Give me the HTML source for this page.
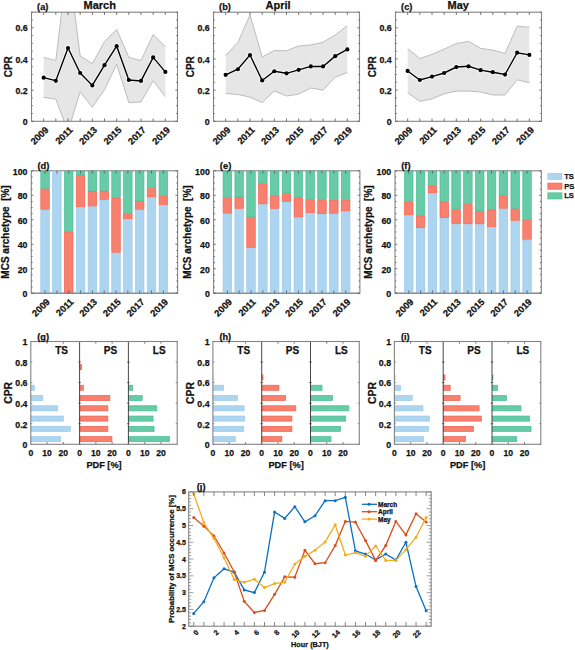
<!DOCTYPE html>
<html><head><meta charset="utf-8"><title>figure</title>
<style>html,body{margin:0;padding:0;background:#fff;width:575px;height:650px;overflow:hidden}svg{display:block}</style>
</head><body>
<svg width="575" height="650" viewBox="0 0 575 650" font-family='"Liberation Sans", sans-serif'>
<rect x="0" y="0" width="575" height="650" fill="#fff"/>
<clipPath id="c1_0"><rect x="31.5" y="12.2" width="146" height="109.1"/></clipPath>
<g clip-path="url(#c1_0)">
<polygon points="43.67,57.4 55.83,60.52 68,-40.79 80.17,55.84 92.33,63.63 104.5,41.81 116.67,29.34 128.83,57.4 141,60.52 153.17,34.49 165.33,46.64 165.33,96.67 153.17,80.78 141,101.97 128.83,102.6 116.67,64.26 104.5,89.66 92.33,107.27 80.17,91.69 68,131.43 55.83,99.17 43.67,97.45" fill="#e6e6e6" stroke="none"/>
<polyline points="43.67,57.4 55.83,60.52 68,-40.79 80.17,55.84 92.33,63.63 104.5,41.81 116.67,29.34 128.83,57.4 141,60.52 153.17,34.49 165.33,46.64" fill="none" stroke="#bcbcbc" stroke-width="1.0"/>
<polyline points="43.67,97.45 55.83,99.17 68,131.43 80.17,91.69 92.33,107.27 104.5,89.66 116.67,64.26 128.83,102.6 141,101.97 153.17,80.78 165.33,96.67" fill="none" stroke="#bcbcbc" stroke-width="1.0"/>
</g>
<polyline points="43.67,77.66 55.83,80.78 68,48.05 80.17,72.98 92.33,85.45 104.5,65.19 116.67,46.18 128.83,80 141,80.93 153.17,57.4 165.33,71.89" fill="none" stroke="#fff" stroke-opacity="0.75" stroke-width="3.0"/>
<circle cx="43.67" cy="77.66" r="3.0" fill="#fff" fill-opacity="0.75"/>
<circle cx="55.83" cy="80.78" r="3.0" fill="#fff" fill-opacity="0.75"/>
<circle cx="68" cy="48.05" r="3.0" fill="#fff" fill-opacity="0.75"/>
<circle cx="80.17" cy="72.98" r="3.0" fill="#fff" fill-opacity="0.75"/>
<circle cx="92.33" cy="85.45" r="3.0" fill="#fff" fill-opacity="0.75"/>
<circle cx="104.5" cy="65.19" r="3.0" fill="#fff" fill-opacity="0.75"/>
<circle cx="116.67" cy="46.18" r="3.0" fill="#fff" fill-opacity="0.75"/>
<circle cx="128.83" cy="80" r="3.0" fill="#fff" fill-opacity="0.75"/>
<circle cx="141" cy="80.93" r="3.0" fill="#fff" fill-opacity="0.75"/>
<circle cx="153.17" cy="57.4" r="3.0" fill="#fff" fill-opacity="0.75"/>
<circle cx="165.33" cy="71.89" r="3.0" fill="#fff" fill-opacity="0.75"/>
<polyline points="43.67,77.66 55.83,80.78 68,48.05 80.17,72.98 92.33,85.45 104.5,65.19 116.67,46.18 128.83,80 141,80.93 153.17,57.4 165.33,71.89" fill="none" stroke="#000" stroke-width="1.4"/>
<circle cx="43.67" cy="77.66" r="2.1" fill="#000"/>
<circle cx="55.83" cy="80.78" r="2.1" fill="#000"/>
<circle cx="68" cy="48.05" r="2.1" fill="#000"/>
<circle cx="80.17" cy="72.98" r="2.1" fill="#000"/>
<circle cx="92.33" cy="85.45" r="2.1" fill="#000"/>
<circle cx="104.5" cy="65.19" r="2.1" fill="#000"/>
<circle cx="116.67" cy="46.18" r="2.1" fill="#000"/>
<circle cx="128.83" cy="80" r="2.1" fill="#000"/>
<circle cx="141" cy="80.93" r="2.1" fill="#000"/>
<circle cx="153.17" cy="57.4" r="2.1" fill="#000"/>
<circle cx="165.33" cy="71.89" r="2.1" fill="#000"/>
<rect x="31.5" y="12.2" width="146" height="109.1" fill="none" stroke="#848484" stroke-width="1.1"/>
<line x1="43.67" y1="121.3" x2="43.67" y2="118.5" stroke="#555" stroke-width="0.8"/>
<line x1="43.67" y1="12.2" x2="43.67" y2="15" stroke="#555" stroke-width="0.8"/>
<line x1="55.83" y1="121.3" x2="55.83" y2="118.5" stroke="#555" stroke-width="0.8"/>
<line x1="55.83" y1="12.2" x2="55.83" y2="15" stroke="#555" stroke-width="0.8"/>
<line x1="68" y1="121.3" x2="68" y2="118.5" stroke="#555" stroke-width="0.8"/>
<line x1="68" y1="12.2" x2="68" y2="15" stroke="#555" stroke-width="0.8"/>
<line x1="80.17" y1="121.3" x2="80.17" y2="118.5" stroke="#555" stroke-width="0.8"/>
<line x1="80.17" y1="12.2" x2="80.17" y2="15" stroke="#555" stroke-width="0.8"/>
<line x1="92.33" y1="121.3" x2="92.33" y2="118.5" stroke="#555" stroke-width="0.8"/>
<line x1="92.33" y1="12.2" x2="92.33" y2="15" stroke="#555" stroke-width="0.8"/>
<line x1="104.5" y1="121.3" x2="104.5" y2="118.5" stroke="#555" stroke-width="0.8"/>
<line x1="104.5" y1="12.2" x2="104.5" y2="15" stroke="#555" stroke-width="0.8"/>
<line x1="116.67" y1="121.3" x2="116.67" y2="118.5" stroke="#555" stroke-width="0.8"/>
<line x1="116.67" y1="12.2" x2="116.67" y2="15" stroke="#555" stroke-width="0.8"/>
<line x1="128.83" y1="121.3" x2="128.83" y2="118.5" stroke="#555" stroke-width="0.8"/>
<line x1="128.83" y1="12.2" x2="128.83" y2="15" stroke="#555" stroke-width="0.8"/>
<line x1="141" y1="121.3" x2="141" y2="118.5" stroke="#555" stroke-width="0.8"/>
<line x1="141" y1="12.2" x2="141" y2="15" stroke="#555" stroke-width="0.8"/>
<line x1="153.17" y1="121.3" x2="153.17" y2="118.5" stroke="#555" stroke-width="0.8"/>
<line x1="153.17" y1="12.2" x2="153.17" y2="15" stroke="#555" stroke-width="0.8"/>
<line x1="165.33" y1="121.3" x2="165.33" y2="118.5" stroke="#555" stroke-width="0.8"/>
<line x1="165.33" y1="12.2" x2="165.33" y2="15" stroke="#555" stroke-width="0.8"/>
<line x1="31.5" y1="121.3" x2="33.7" y2="121.3" stroke="#555" stroke-width="0.8"/>
<line x1="177.5" y1="121.3" x2="175.3" y2="121.3" stroke="#555" stroke-width="0.8"/>
<line x1="31.5" y1="113.51" x2="32.8" y2="113.51" stroke="#555" stroke-width="0.8"/>
<line x1="177.5" y1="113.51" x2="176.2" y2="113.51" stroke="#555" stroke-width="0.8"/>
<line x1="31.5" y1="105.71" x2="32.8" y2="105.71" stroke="#555" stroke-width="0.8"/>
<line x1="177.5" y1="105.71" x2="176.2" y2="105.71" stroke="#555" stroke-width="0.8"/>
<line x1="31.5" y1="97.92" x2="32.8" y2="97.92" stroke="#555" stroke-width="0.8"/>
<line x1="177.5" y1="97.92" x2="176.2" y2="97.92" stroke="#555" stroke-width="0.8"/>
<line x1="31.5" y1="90.13" x2="33.7" y2="90.13" stroke="#555" stroke-width="0.8"/>
<line x1="177.5" y1="90.13" x2="175.3" y2="90.13" stroke="#555" stroke-width="0.8"/>
<line x1="31.5" y1="82.34" x2="32.8" y2="82.34" stroke="#555" stroke-width="0.8"/>
<line x1="177.5" y1="82.34" x2="176.2" y2="82.34" stroke="#555" stroke-width="0.8"/>
<line x1="31.5" y1="74.54" x2="32.8" y2="74.54" stroke="#555" stroke-width="0.8"/>
<line x1="177.5" y1="74.54" x2="176.2" y2="74.54" stroke="#555" stroke-width="0.8"/>
<line x1="31.5" y1="66.75" x2="32.8" y2="66.75" stroke="#555" stroke-width="0.8"/>
<line x1="177.5" y1="66.75" x2="176.2" y2="66.75" stroke="#555" stroke-width="0.8"/>
<line x1="31.5" y1="58.96" x2="33.7" y2="58.96" stroke="#555" stroke-width="0.8"/>
<line x1="177.5" y1="58.96" x2="175.3" y2="58.96" stroke="#555" stroke-width="0.8"/>
<line x1="31.5" y1="51.16" x2="32.8" y2="51.16" stroke="#555" stroke-width="0.8"/>
<line x1="177.5" y1="51.16" x2="176.2" y2="51.16" stroke="#555" stroke-width="0.8"/>
<line x1="31.5" y1="43.37" x2="32.8" y2="43.37" stroke="#555" stroke-width="0.8"/>
<line x1="177.5" y1="43.37" x2="176.2" y2="43.37" stroke="#555" stroke-width="0.8"/>
<line x1="31.5" y1="35.58" x2="32.8" y2="35.58" stroke="#555" stroke-width="0.8"/>
<line x1="177.5" y1="35.58" x2="176.2" y2="35.58" stroke="#555" stroke-width="0.8"/>
<line x1="31.5" y1="27.79" x2="33.7" y2="27.79" stroke="#555" stroke-width="0.8"/>
<line x1="177.5" y1="27.79" x2="175.3" y2="27.79" stroke="#555" stroke-width="0.8"/>
<line x1="31.5" y1="19.99" x2="32.8" y2="19.99" stroke="#555" stroke-width="0.8"/>
<line x1="177.5" y1="19.99" x2="176.2" y2="19.99" stroke="#555" stroke-width="0.8"/>
<line x1="31.5" y1="12.2" x2="32.8" y2="12.2" stroke="#555" stroke-width="0.8"/>
<line x1="177.5" y1="12.2" x2="176.2" y2="12.2" stroke="#555" stroke-width="0.8"/>
<text x="27.7" y="125" font-size="8.8" text-anchor="end" font-weight="bold" fill="#111" stroke="#111" stroke-width="0.25">0</text>
<text x="27.7" y="93.83" font-size="8.8" text-anchor="end" font-weight="bold" fill="#111" stroke="#111" stroke-width="0.25">0.2</text>
<text x="27.7" y="62.66" font-size="8.8" text-anchor="end" font-weight="bold" fill="#111" stroke="#111" stroke-width="0.25">0.4</text>
<text x="27.7" y="31.49" font-size="8.8" text-anchor="end" font-weight="bold" fill="#111" stroke="#111" stroke-width="0.25">0.6</text>
<text x="49.07" y="130.6" font-size="9.3" text-anchor="end" font-weight="bold" fill="#111" stroke="#111" stroke-width="0.25" transform="rotate(-45 49.07 130.6)">2009</text>
<text x="73.4" y="130.6" font-size="9.3" text-anchor="end" font-weight="bold" fill="#111" stroke="#111" stroke-width="0.25" transform="rotate(-45 73.4 130.6)">2011</text>
<text x="97.73" y="130.6" font-size="9.3" text-anchor="end" font-weight="bold" fill="#111" stroke="#111" stroke-width="0.25" transform="rotate(-45 97.73 130.6)">2013</text>
<text x="122.07" y="130.6" font-size="9.3" text-anchor="end" font-weight="bold" fill="#111" stroke="#111" stroke-width="0.25" transform="rotate(-45 122.07 130.6)">2015</text>
<text x="146.4" y="130.6" font-size="9.3" text-anchor="end" font-weight="bold" fill="#111" stroke="#111" stroke-width="0.25" transform="rotate(-45 146.4 130.6)">2017</text>
<text x="170.73" y="130.6" font-size="9.3" text-anchor="end" font-weight="bold" fill="#111" stroke="#111" stroke-width="0.25" transform="rotate(-45 170.73 130.6)">2019</text>
<text x="8" y="66.75" font-size="10" text-anchor="middle" font-weight="bold" fill="#111" stroke="#111" stroke-width="0.25" transform="rotate(-90 8 66.75)" dominant-baseline="central">CPR</text>
<text x="37.1" y="10" font-size="9.2" text-anchor="start" font-weight="bold" fill="#111" stroke="#111" stroke-width="0.25">(a)</text>
<text x="83.5" y="9.2" font-size="11" text-anchor="start" font-weight="bold" fill="#111" stroke="#111" stroke-width="0.25">March</text>
<clipPath id="c1_1"><rect x="213.5" y="12.2" width="146" height="109.1"/></clipPath>
<g clip-path="url(#c1_1)">
<polygon points="225.67,55.37 237.83,42.59 250,14.85 262.17,56.93 274.33,50.54 286.5,50.7 298.67,46.02 310.83,44.93 323,42.28 335.17,35.11 347.33,25.6 347.33,72.67 335.17,77.19 323,90.13 310.83,87.95 298.67,94.18 286.5,96.05 274.33,90.91 262.17,102.6 250,97.14 237.83,94.49 225.67,93.56" fill="#e6e6e6" stroke="none"/>
<polyline points="225.67,55.37 237.83,42.59 250,14.85 262.17,56.93 274.33,50.54 286.5,50.7 298.67,46.02 310.83,44.93 323,42.28 335.17,35.11 347.33,25.6" fill="none" stroke="#bcbcbc" stroke-width="1.0"/>
<polyline points="225.67,93.56 237.83,94.49 250,97.14 262.17,102.6 274.33,90.91 286.5,96.05 298.67,94.18 310.83,87.95 323,90.13 335.17,77.19 347.33,72.67" fill="none" stroke="#bcbcbc" stroke-width="1.0"/>
</g>
<polyline points="225.67,74.85 237.83,69.24 250,55.06 262.17,80.47 274.33,71.27 286.5,73.3 298.67,69.87 310.83,66.44 323,66.44 335.17,56.15 347.33,49.45" fill="none" stroke="#fff" stroke-opacity="0.75" stroke-width="3.0"/>
<circle cx="225.67" cy="74.85" r="3.0" fill="#fff" fill-opacity="0.75"/>
<circle cx="237.83" cy="69.24" r="3.0" fill="#fff" fill-opacity="0.75"/>
<circle cx="250" cy="55.06" r="3.0" fill="#fff" fill-opacity="0.75"/>
<circle cx="262.17" cy="80.47" r="3.0" fill="#fff" fill-opacity="0.75"/>
<circle cx="274.33" cy="71.27" r="3.0" fill="#fff" fill-opacity="0.75"/>
<circle cx="286.5" cy="73.3" r="3.0" fill="#fff" fill-opacity="0.75"/>
<circle cx="298.67" cy="69.87" r="3.0" fill="#fff" fill-opacity="0.75"/>
<circle cx="310.83" cy="66.44" r="3.0" fill="#fff" fill-opacity="0.75"/>
<circle cx="323" cy="66.44" r="3.0" fill="#fff" fill-opacity="0.75"/>
<circle cx="335.17" cy="56.15" r="3.0" fill="#fff" fill-opacity="0.75"/>
<circle cx="347.33" cy="49.45" r="3.0" fill="#fff" fill-opacity="0.75"/>
<polyline points="225.67,74.85 237.83,69.24 250,55.06 262.17,80.47 274.33,71.27 286.5,73.3 298.67,69.87 310.83,66.44 323,66.44 335.17,56.15 347.33,49.45" fill="none" stroke="#000" stroke-width="1.4"/>
<circle cx="225.67" cy="74.85" r="2.1" fill="#000"/>
<circle cx="237.83" cy="69.24" r="2.1" fill="#000"/>
<circle cx="250" cy="55.06" r="2.1" fill="#000"/>
<circle cx="262.17" cy="80.47" r="2.1" fill="#000"/>
<circle cx="274.33" cy="71.27" r="2.1" fill="#000"/>
<circle cx="286.5" cy="73.3" r="2.1" fill="#000"/>
<circle cx="298.67" cy="69.87" r="2.1" fill="#000"/>
<circle cx="310.83" cy="66.44" r="2.1" fill="#000"/>
<circle cx="323" cy="66.44" r="2.1" fill="#000"/>
<circle cx="335.17" cy="56.15" r="2.1" fill="#000"/>
<circle cx="347.33" cy="49.45" r="2.1" fill="#000"/>
<rect x="213.5" y="12.2" width="146" height="109.1" fill="none" stroke="#848484" stroke-width="1.1"/>
<line x1="225.67" y1="121.3" x2="225.67" y2="118.5" stroke="#555" stroke-width="0.8"/>
<line x1="225.67" y1="12.2" x2="225.67" y2="15" stroke="#555" stroke-width="0.8"/>
<line x1="237.83" y1="121.3" x2="237.83" y2="118.5" stroke="#555" stroke-width="0.8"/>
<line x1="237.83" y1="12.2" x2="237.83" y2="15" stroke="#555" stroke-width="0.8"/>
<line x1="250" y1="121.3" x2="250" y2="118.5" stroke="#555" stroke-width="0.8"/>
<line x1="250" y1="12.2" x2="250" y2="15" stroke="#555" stroke-width="0.8"/>
<line x1="262.17" y1="121.3" x2="262.17" y2="118.5" stroke="#555" stroke-width="0.8"/>
<line x1="262.17" y1="12.2" x2="262.17" y2="15" stroke="#555" stroke-width="0.8"/>
<line x1="274.33" y1="121.3" x2="274.33" y2="118.5" stroke="#555" stroke-width="0.8"/>
<line x1="274.33" y1="12.2" x2="274.33" y2="15" stroke="#555" stroke-width="0.8"/>
<line x1="286.5" y1="121.3" x2="286.5" y2="118.5" stroke="#555" stroke-width="0.8"/>
<line x1="286.5" y1="12.2" x2="286.5" y2="15" stroke="#555" stroke-width="0.8"/>
<line x1="298.67" y1="121.3" x2="298.67" y2="118.5" stroke="#555" stroke-width="0.8"/>
<line x1="298.67" y1="12.2" x2="298.67" y2="15" stroke="#555" stroke-width="0.8"/>
<line x1="310.83" y1="121.3" x2="310.83" y2="118.5" stroke="#555" stroke-width="0.8"/>
<line x1="310.83" y1="12.2" x2="310.83" y2="15" stroke="#555" stroke-width="0.8"/>
<line x1="323" y1="121.3" x2="323" y2="118.5" stroke="#555" stroke-width="0.8"/>
<line x1="323" y1="12.2" x2="323" y2="15" stroke="#555" stroke-width="0.8"/>
<line x1="335.17" y1="121.3" x2="335.17" y2="118.5" stroke="#555" stroke-width="0.8"/>
<line x1="335.17" y1="12.2" x2="335.17" y2="15" stroke="#555" stroke-width="0.8"/>
<line x1="347.33" y1="121.3" x2="347.33" y2="118.5" stroke="#555" stroke-width="0.8"/>
<line x1="347.33" y1="12.2" x2="347.33" y2="15" stroke="#555" stroke-width="0.8"/>
<line x1="213.5" y1="121.3" x2="215.7" y2="121.3" stroke="#555" stroke-width="0.8"/>
<line x1="359.5" y1="121.3" x2="357.3" y2="121.3" stroke="#555" stroke-width="0.8"/>
<line x1="213.5" y1="113.51" x2="214.8" y2="113.51" stroke="#555" stroke-width="0.8"/>
<line x1="359.5" y1="113.51" x2="358.2" y2="113.51" stroke="#555" stroke-width="0.8"/>
<line x1="213.5" y1="105.71" x2="214.8" y2="105.71" stroke="#555" stroke-width="0.8"/>
<line x1="359.5" y1="105.71" x2="358.2" y2="105.71" stroke="#555" stroke-width="0.8"/>
<line x1="213.5" y1="97.92" x2="214.8" y2="97.92" stroke="#555" stroke-width="0.8"/>
<line x1="359.5" y1="97.92" x2="358.2" y2="97.92" stroke="#555" stroke-width="0.8"/>
<line x1="213.5" y1="90.13" x2="215.7" y2="90.13" stroke="#555" stroke-width="0.8"/>
<line x1="359.5" y1="90.13" x2="357.3" y2="90.13" stroke="#555" stroke-width="0.8"/>
<line x1="213.5" y1="82.34" x2="214.8" y2="82.34" stroke="#555" stroke-width="0.8"/>
<line x1="359.5" y1="82.34" x2="358.2" y2="82.34" stroke="#555" stroke-width="0.8"/>
<line x1="213.5" y1="74.54" x2="214.8" y2="74.54" stroke="#555" stroke-width="0.8"/>
<line x1="359.5" y1="74.54" x2="358.2" y2="74.54" stroke="#555" stroke-width="0.8"/>
<line x1="213.5" y1="66.75" x2="214.8" y2="66.75" stroke="#555" stroke-width="0.8"/>
<line x1="359.5" y1="66.75" x2="358.2" y2="66.75" stroke="#555" stroke-width="0.8"/>
<line x1="213.5" y1="58.96" x2="215.7" y2="58.96" stroke="#555" stroke-width="0.8"/>
<line x1="359.5" y1="58.96" x2="357.3" y2="58.96" stroke="#555" stroke-width="0.8"/>
<line x1="213.5" y1="51.16" x2="214.8" y2="51.16" stroke="#555" stroke-width="0.8"/>
<line x1="359.5" y1="51.16" x2="358.2" y2="51.16" stroke="#555" stroke-width="0.8"/>
<line x1="213.5" y1="43.37" x2="214.8" y2="43.37" stroke="#555" stroke-width="0.8"/>
<line x1="359.5" y1="43.37" x2="358.2" y2="43.37" stroke="#555" stroke-width="0.8"/>
<line x1="213.5" y1="35.58" x2="214.8" y2="35.58" stroke="#555" stroke-width="0.8"/>
<line x1="359.5" y1="35.58" x2="358.2" y2="35.58" stroke="#555" stroke-width="0.8"/>
<line x1="213.5" y1="27.79" x2="215.7" y2="27.79" stroke="#555" stroke-width="0.8"/>
<line x1="359.5" y1="27.79" x2="357.3" y2="27.79" stroke="#555" stroke-width="0.8"/>
<line x1="213.5" y1="19.99" x2="214.8" y2="19.99" stroke="#555" stroke-width="0.8"/>
<line x1="359.5" y1="19.99" x2="358.2" y2="19.99" stroke="#555" stroke-width="0.8"/>
<line x1="213.5" y1="12.2" x2="214.8" y2="12.2" stroke="#555" stroke-width="0.8"/>
<line x1="359.5" y1="12.2" x2="358.2" y2="12.2" stroke="#555" stroke-width="0.8"/>
<text x="209.7" y="125" font-size="8.8" text-anchor="end" font-weight="bold" fill="#111" stroke="#111" stroke-width="0.25">0</text>
<text x="209.7" y="93.83" font-size="8.8" text-anchor="end" font-weight="bold" fill="#111" stroke="#111" stroke-width="0.25">0.2</text>
<text x="209.7" y="62.66" font-size="8.8" text-anchor="end" font-weight="bold" fill="#111" stroke="#111" stroke-width="0.25">0.4</text>
<text x="209.7" y="31.49" font-size="8.8" text-anchor="end" font-weight="bold" fill="#111" stroke="#111" stroke-width="0.25">0.6</text>
<text x="231.07" y="130.6" font-size="9.3" text-anchor="end" font-weight="bold" fill="#111" stroke="#111" stroke-width="0.25" transform="rotate(-45 231.07 130.6)">2009</text>
<text x="255.4" y="130.6" font-size="9.3" text-anchor="end" font-weight="bold" fill="#111" stroke="#111" stroke-width="0.25" transform="rotate(-45 255.4 130.6)">2011</text>
<text x="279.73" y="130.6" font-size="9.3" text-anchor="end" font-weight="bold" fill="#111" stroke="#111" stroke-width="0.25" transform="rotate(-45 279.73 130.6)">2013</text>
<text x="304.07" y="130.6" font-size="9.3" text-anchor="end" font-weight="bold" fill="#111" stroke="#111" stroke-width="0.25" transform="rotate(-45 304.07 130.6)">2015</text>
<text x="328.4" y="130.6" font-size="9.3" text-anchor="end" font-weight="bold" fill="#111" stroke="#111" stroke-width="0.25" transform="rotate(-45 328.4 130.6)">2017</text>
<text x="352.73" y="130.6" font-size="9.3" text-anchor="end" font-weight="bold" fill="#111" stroke="#111" stroke-width="0.25" transform="rotate(-45 352.73 130.6)">2019</text>
<text x="190" y="66.75" font-size="10" text-anchor="middle" font-weight="bold" fill="#111" stroke="#111" stroke-width="0.25" transform="rotate(-90 190 66.75)" dominant-baseline="central">CPR</text>
<text x="219.1" y="10" font-size="9.2" text-anchor="start" font-weight="bold" fill="#111" stroke="#111" stroke-width="0.25">(b)</text>
<text x="265.5" y="9.2" font-size="11" text-anchor="start" font-weight="bold" fill="#111" stroke="#111" stroke-width="0.25">April</text>
<clipPath id="c1_2"><rect x="395.5" y="12.2" width="146" height="109.1"/></clipPath>
<g clip-path="url(#c1_2)">
<polygon points="407.67,48.67 419.83,58.49 432,54.28 444.17,49.14 456.33,43.53 468.5,41.35 480.67,48.36 492.83,50.07 505,53.5 517.17,26.07 529.33,27.32 529.33,82.8 517.17,79.84 505,94.96 492.83,94.96 480.67,92 468.5,91.06 456.33,91.06 444.17,93.71 432,99.01 419.83,101.35 407.67,92.78" fill="#e6e6e6" stroke="none"/>
<polyline points="407.67,48.67 419.83,58.49 432,54.28 444.17,49.14 456.33,43.53 468.5,41.35 480.67,48.36 492.83,50.07 505,53.5 517.17,26.07 529.33,27.32" fill="none" stroke="#bcbcbc" stroke-width="1.0"/>
<polyline points="407.67,92.78 419.83,101.35 432,99.01 444.17,93.71 456.33,91.06 468.5,91.06 480.67,92 492.83,94.96 505,94.96 517.17,79.84 529.33,82.8" fill="none" stroke="#bcbcbc" stroke-width="1.0"/>
</g>
<polyline points="407.67,70.96 419.83,80 432,76.57 444.17,72.98 456.33,67.06 468.5,66.28 480.67,70.18 492.83,72.2 505,74.54 517.17,52.72 529.33,54.9" fill="none" stroke="#fff" stroke-opacity="0.75" stroke-width="3.0"/>
<circle cx="407.67" cy="70.96" r="3.0" fill="#fff" fill-opacity="0.75"/>
<circle cx="419.83" cy="80" r="3.0" fill="#fff" fill-opacity="0.75"/>
<circle cx="432" cy="76.57" r="3.0" fill="#fff" fill-opacity="0.75"/>
<circle cx="444.17" cy="72.98" r="3.0" fill="#fff" fill-opacity="0.75"/>
<circle cx="456.33" cy="67.06" r="3.0" fill="#fff" fill-opacity="0.75"/>
<circle cx="468.5" cy="66.28" r="3.0" fill="#fff" fill-opacity="0.75"/>
<circle cx="480.67" cy="70.18" r="3.0" fill="#fff" fill-opacity="0.75"/>
<circle cx="492.83" cy="72.2" r="3.0" fill="#fff" fill-opacity="0.75"/>
<circle cx="505" cy="74.54" r="3.0" fill="#fff" fill-opacity="0.75"/>
<circle cx="517.17" cy="52.72" r="3.0" fill="#fff" fill-opacity="0.75"/>
<circle cx="529.33" cy="54.9" r="3.0" fill="#fff" fill-opacity="0.75"/>
<polyline points="407.67,70.96 419.83,80 432,76.57 444.17,72.98 456.33,67.06 468.5,66.28 480.67,70.18 492.83,72.2 505,74.54 517.17,52.72 529.33,54.9" fill="none" stroke="#000" stroke-width="1.4"/>
<circle cx="407.67" cy="70.96" r="2.1" fill="#000"/>
<circle cx="419.83" cy="80" r="2.1" fill="#000"/>
<circle cx="432" cy="76.57" r="2.1" fill="#000"/>
<circle cx="444.17" cy="72.98" r="2.1" fill="#000"/>
<circle cx="456.33" cy="67.06" r="2.1" fill="#000"/>
<circle cx="468.5" cy="66.28" r="2.1" fill="#000"/>
<circle cx="480.67" cy="70.18" r="2.1" fill="#000"/>
<circle cx="492.83" cy="72.2" r="2.1" fill="#000"/>
<circle cx="505" cy="74.54" r="2.1" fill="#000"/>
<circle cx="517.17" cy="52.72" r="2.1" fill="#000"/>
<circle cx="529.33" cy="54.9" r="2.1" fill="#000"/>
<rect x="395.5" y="12.2" width="146" height="109.1" fill="none" stroke="#848484" stroke-width="1.1"/>
<line x1="407.67" y1="121.3" x2="407.67" y2="118.5" stroke="#555" stroke-width="0.8"/>
<line x1="407.67" y1="12.2" x2="407.67" y2="15" stroke="#555" stroke-width="0.8"/>
<line x1="419.83" y1="121.3" x2="419.83" y2="118.5" stroke="#555" stroke-width="0.8"/>
<line x1="419.83" y1="12.2" x2="419.83" y2="15" stroke="#555" stroke-width="0.8"/>
<line x1="432" y1="121.3" x2="432" y2="118.5" stroke="#555" stroke-width="0.8"/>
<line x1="432" y1="12.2" x2="432" y2="15" stroke="#555" stroke-width="0.8"/>
<line x1="444.17" y1="121.3" x2="444.17" y2="118.5" stroke="#555" stroke-width="0.8"/>
<line x1="444.17" y1="12.2" x2="444.17" y2="15" stroke="#555" stroke-width="0.8"/>
<line x1="456.33" y1="121.3" x2="456.33" y2="118.5" stroke="#555" stroke-width="0.8"/>
<line x1="456.33" y1="12.2" x2="456.33" y2="15" stroke="#555" stroke-width="0.8"/>
<line x1="468.5" y1="121.3" x2="468.5" y2="118.5" stroke="#555" stroke-width="0.8"/>
<line x1="468.5" y1="12.2" x2="468.5" y2="15" stroke="#555" stroke-width="0.8"/>
<line x1="480.67" y1="121.3" x2="480.67" y2="118.5" stroke="#555" stroke-width="0.8"/>
<line x1="480.67" y1="12.2" x2="480.67" y2="15" stroke="#555" stroke-width="0.8"/>
<line x1="492.83" y1="121.3" x2="492.83" y2="118.5" stroke="#555" stroke-width="0.8"/>
<line x1="492.83" y1="12.2" x2="492.83" y2="15" stroke="#555" stroke-width="0.8"/>
<line x1="505" y1="121.3" x2="505" y2="118.5" stroke="#555" stroke-width="0.8"/>
<line x1="505" y1="12.2" x2="505" y2="15" stroke="#555" stroke-width="0.8"/>
<line x1="517.17" y1="121.3" x2="517.17" y2="118.5" stroke="#555" stroke-width="0.8"/>
<line x1="517.17" y1="12.2" x2="517.17" y2="15" stroke="#555" stroke-width="0.8"/>
<line x1="529.33" y1="121.3" x2="529.33" y2="118.5" stroke="#555" stroke-width="0.8"/>
<line x1="529.33" y1="12.2" x2="529.33" y2="15" stroke="#555" stroke-width="0.8"/>
<line x1="395.5" y1="121.3" x2="397.7" y2="121.3" stroke="#555" stroke-width="0.8"/>
<line x1="541.5" y1="121.3" x2="539.3" y2="121.3" stroke="#555" stroke-width="0.8"/>
<line x1="395.5" y1="113.51" x2="396.8" y2="113.51" stroke="#555" stroke-width="0.8"/>
<line x1="541.5" y1="113.51" x2="540.2" y2="113.51" stroke="#555" stroke-width="0.8"/>
<line x1="395.5" y1="105.71" x2="396.8" y2="105.71" stroke="#555" stroke-width="0.8"/>
<line x1="541.5" y1="105.71" x2="540.2" y2="105.71" stroke="#555" stroke-width="0.8"/>
<line x1="395.5" y1="97.92" x2="396.8" y2="97.92" stroke="#555" stroke-width="0.8"/>
<line x1="541.5" y1="97.92" x2="540.2" y2="97.92" stroke="#555" stroke-width="0.8"/>
<line x1="395.5" y1="90.13" x2="397.7" y2="90.13" stroke="#555" stroke-width="0.8"/>
<line x1="541.5" y1="90.13" x2="539.3" y2="90.13" stroke="#555" stroke-width="0.8"/>
<line x1="395.5" y1="82.34" x2="396.8" y2="82.34" stroke="#555" stroke-width="0.8"/>
<line x1="541.5" y1="82.34" x2="540.2" y2="82.34" stroke="#555" stroke-width="0.8"/>
<line x1="395.5" y1="74.54" x2="396.8" y2="74.54" stroke="#555" stroke-width="0.8"/>
<line x1="541.5" y1="74.54" x2="540.2" y2="74.54" stroke="#555" stroke-width="0.8"/>
<line x1="395.5" y1="66.75" x2="396.8" y2="66.75" stroke="#555" stroke-width="0.8"/>
<line x1="541.5" y1="66.75" x2="540.2" y2="66.75" stroke="#555" stroke-width="0.8"/>
<line x1="395.5" y1="58.96" x2="397.7" y2="58.96" stroke="#555" stroke-width="0.8"/>
<line x1="541.5" y1="58.96" x2="539.3" y2="58.96" stroke="#555" stroke-width="0.8"/>
<line x1="395.5" y1="51.16" x2="396.8" y2="51.16" stroke="#555" stroke-width="0.8"/>
<line x1="541.5" y1="51.16" x2="540.2" y2="51.16" stroke="#555" stroke-width="0.8"/>
<line x1="395.5" y1="43.37" x2="396.8" y2="43.37" stroke="#555" stroke-width="0.8"/>
<line x1="541.5" y1="43.37" x2="540.2" y2="43.37" stroke="#555" stroke-width="0.8"/>
<line x1="395.5" y1="35.58" x2="396.8" y2="35.58" stroke="#555" stroke-width="0.8"/>
<line x1="541.5" y1="35.58" x2="540.2" y2="35.58" stroke="#555" stroke-width="0.8"/>
<line x1="395.5" y1="27.79" x2="397.7" y2="27.79" stroke="#555" stroke-width="0.8"/>
<line x1="541.5" y1="27.79" x2="539.3" y2="27.79" stroke="#555" stroke-width="0.8"/>
<line x1="395.5" y1="19.99" x2="396.8" y2="19.99" stroke="#555" stroke-width="0.8"/>
<line x1="541.5" y1="19.99" x2="540.2" y2="19.99" stroke="#555" stroke-width="0.8"/>
<line x1="395.5" y1="12.2" x2="396.8" y2="12.2" stroke="#555" stroke-width="0.8"/>
<line x1="541.5" y1="12.2" x2="540.2" y2="12.2" stroke="#555" stroke-width="0.8"/>
<text x="391.7" y="125" font-size="8.8" text-anchor="end" font-weight="bold" fill="#111" stroke="#111" stroke-width="0.25">0</text>
<text x="391.7" y="93.83" font-size="8.8" text-anchor="end" font-weight="bold" fill="#111" stroke="#111" stroke-width="0.25">0.2</text>
<text x="391.7" y="62.66" font-size="8.8" text-anchor="end" font-weight="bold" fill="#111" stroke="#111" stroke-width="0.25">0.4</text>
<text x="391.7" y="31.49" font-size="8.8" text-anchor="end" font-weight="bold" fill="#111" stroke="#111" stroke-width="0.25">0.6</text>
<text x="413.07" y="130.6" font-size="9.3" text-anchor="end" font-weight="bold" fill="#111" stroke="#111" stroke-width="0.25" transform="rotate(-45 413.07 130.6)">2009</text>
<text x="437.4" y="130.6" font-size="9.3" text-anchor="end" font-weight="bold" fill="#111" stroke="#111" stroke-width="0.25" transform="rotate(-45 437.4 130.6)">2011</text>
<text x="461.73" y="130.6" font-size="9.3" text-anchor="end" font-weight="bold" fill="#111" stroke="#111" stroke-width="0.25" transform="rotate(-45 461.73 130.6)">2013</text>
<text x="486.07" y="130.6" font-size="9.3" text-anchor="end" font-weight="bold" fill="#111" stroke="#111" stroke-width="0.25" transform="rotate(-45 486.07 130.6)">2015</text>
<text x="510.4" y="130.6" font-size="9.3" text-anchor="end" font-weight="bold" fill="#111" stroke="#111" stroke-width="0.25" transform="rotate(-45 510.4 130.6)">2017</text>
<text x="534.73" y="130.6" font-size="9.3" text-anchor="end" font-weight="bold" fill="#111" stroke="#111" stroke-width="0.25" transform="rotate(-45 534.73 130.6)">2019</text>
<text x="372" y="66.75" font-size="10" text-anchor="middle" font-weight="bold" fill="#111" stroke="#111" stroke-width="0.25" transform="rotate(-90 372 66.75)" dominant-baseline="central">CPR</text>
<text x="401.1" y="10" font-size="9.2" text-anchor="start" font-weight="bold" fill="#111" stroke="#111" stroke-width="0.25">(c)</text>
<text x="447.5" y="9.2" font-size="11" text-anchor="start" font-weight="bold" fill="#111" stroke="#111" stroke-width="0.25">May</text>
<rect x="31.3" y="170.8" width="146.3" height="122.4" fill="none" stroke="#848484" stroke-width="1.1"/>
<rect x="40.8" y="171.15" width="8.5" height="17.29" fill="#66cba6" stroke="#45bf92" stroke-width="0.7"/>
<rect x="40.8" y="189.14" width="8.5" height="20.23" fill="#f8806f" stroke="#f3604f" stroke-width="0.7"/>
<rect x="40.8" y="210.07" width="8.5" height="82.78" fill="#add5f0" stroke="#98cbee" stroke-width="0.7"/>
<rect x="52.63" y="171.15" width="8.5" height="121.7" fill="#add5f0" stroke="#98cbee" stroke-width="0.7"/>
<rect x="64.46" y="171.15" width="8.5" height="60.5" fill="#66cba6" stroke="#45bf92" stroke-width="0.7"/>
<rect x="64.46" y="232.35" width="8.5" height="60.5" fill="#f8806f" stroke="#f3604f" stroke-width="0.7"/>
<rect x="76.29" y="171.15" width="8.5" height="3.83" fill="#66cba6" stroke="#45bf92" stroke-width="0.7"/>
<rect x="76.29" y="175.68" width="8.5" height="31.12" fill="#f8806f" stroke="#f3604f" stroke-width="0.7"/>
<rect x="76.29" y="207.5" width="8.5" height="85.35" fill="#add5f0" stroke="#98cbee" stroke-width="0.7"/>
<rect x="88.12" y="171.15" width="8.5" height="19.62" fill="#66cba6" stroke="#45bf92" stroke-width="0.7"/>
<rect x="88.12" y="191.47" width="8.5" height="14.72" fill="#f8806f" stroke="#f3604f" stroke-width="0.7"/>
<rect x="88.12" y="206.89" width="8.5" height="85.96" fill="#add5f0" stroke="#98cbee" stroke-width="0.7"/>
<rect x="99.95" y="171.15" width="8.5" height="19.37" fill="#66cba6" stroke="#45bf92" stroke-width="0.7"/>
<rect x="99.95" y="191.22" width="8.5" height="8.24" fill="#f8806f" stroke="#f3604f" stroke-width="0.7"/>
<rect x="99.95" y="200.16" width="8.5" height="92.69" fill="#add5f0" stroke="#98cbee" stroke-width="0.7"/>
<rect x="111.78" y="171.15" width="8.5" height="26.47" fill="#66cba6" stroke="#45bf92" stroke-width="0.7"/>
<rect x="111.78" y="198.32" width="8.5" height="54.14" fill="#f8806f" stroke="#f3604f" stroke-width="0.7"/>
<rect x="111.78" y="253.16" width="8.5" height="39.69" fill="#add5f0" stroke="#98cbee" stroke-width="0.7"/>
<rect x="123.61" y="171.15" width="8.5" height="42.26" fill="#66cba6" stroke="#45bf92" stroke-width="0.7"/>
<rect x="123.61" y="214.11" width="8.5" height="4.56" fill="#f8806f" stroke="#f3604f" stroke-width="0.7"/>
<rect x="123.61" y="219.38" width="8.5" height="73.47" fill="#add5f0" stroke="#98cbee" stroke-width="0.7"/>
<rect x="135.44" y="171.15" width="8.5" height="29.78" fill="#66cba6" stroke="#45bf92" stroke-width="0.7"/>
<rect x="135.44" y="201.63" width="8.5" height="7.75" fill="#f8806f" stroke="#f3604f" stroke-width="0.7"/>
<rect x="135.44" y="210.07" width="8.5" height="82.78" fill="#add5f0" stroke="#98cbee" stroke-width="0.7"/>
<rect x="147.27" y="171.15" width="8.5" height="16.93" fill="#66cba6" stroke="#45bf92" stroke-width="0.7"/>
<rect x="147.27" y="188.78" width="8.5" height="8.36" fill="#f8806f" stroke="#f3604f" stroke-width="0.7"/>
<rect x="147.27" y="197.83" width="8.5" height="95.02" fill="#add5f0" stroke="#98cbee" stroke-width="0.7"/>
<rect x="159.1" y="171.15" width="8.5" height="24.64" fill="#66cba6" stroke="#45bf92" stroke-width="0.7"/>
<rect x="159.1" y="196.49" width="8.5" height="8.24" fill="#f8806f" stroke="#f3604f" stroke-width="0.7"/>
<rect x="159.1" y="205.42" width="8.5" height="87.43" fill="#add5f0" stroke="#98cbee" stroke-width="0.7"/>
<line x1="31.3" y1="293.2" x2="177.6" y2="293.2" stroke="#848484" stroke-width="1.1"/>
<line x1="45.05" y1="293.2" x2="45.05" y2="290.4" stroke="#555" stroke-width="0.8"/>
<line x1="45.05" y1="170.8" x2="45.05" y2="173.6" stroke="#555" stroke-width="0.8"/>
<line x1="56.88" y1="293.2" x2="56.88" y2="290.4" stroke="#555" stroke-width="0.8"/>
<line x1="56.88" y1="170.8" x2="56.88" y2="173.6" stroke="#555" stroke-width="0.8"/>
<line x1="68.71" y1="293.2" x2="68.71" y2="290.4" stroke="#555" stroke-width="0.8"/>
<line x1="68.71" y1="170.8" x2="68.71" y2="173.6" stroke="#555" stroke-width="0.8"/>
<line x1="80.54" y1="293.2" x2="80.54" y2="290.4" stroke="#555" stroke-width="0.8"/>
<line x1="80.54" y1="170.8" x2="80.54" y2="173.6" stroke="#555" stroke-width="0.8"/>
<line x1="92.37" y1="293.2" x2="92.37" y2="290.4" stroke="#555" stroke-width="0.8"/>
<line x1="92.37" y1="170.8" x2="92.37" y2="173.6" stroke="#555" stroke-width="0.8"/>
<line x1="104.2" y1="293.2" x2="104.2" y2="290.4" stroke="#555" stroke-width="0.8"/>
<line x1="104.2" y1="170.8" x2="104.2" y2="173.6" stroke="#555" stroke-width="0.8"/>
<line x1="116.03" y1="293.2" x2="116.03" y2="290.4" stroke="#555" stroke-width="0.8"/>
<line x1="116.03" y1="170.8" x2="116.03" y2="173.6" stroke="#555" stroke-width="0.8"/>
<line x1="127.86" y1="293.2" x2="127.86" y2="290.4" stroke="#555" stroke-width="0.8"/>
<line x1="127.86" y1="170.8" x2="127.86" y2="173.6" stroke="#555" stroke-width="0.8"/>
<line x1="139.69" y1="293.2" x2="139.69" y2="290.4" stroke="#555" stroke-width="0.8"/>
<line x1="139.69" y1="170.8" x2="139.69" y2="173.6" stroke="#555" stroke-width="0.8"/>
<line x1="151.52" y1="293.2" x2="151.52" y2="290.4" stroke="#555" stroke-width="0.8"/>
<line x1="151.52" y1="170.8" x2="151.52" y2="173.6" stroke="#555" stroke-width="0.8"/>
<line x1="163.35" y1="293.2" x2="163.35" y2="290.4" stroke="#555" stroke-width="0.8"/>
<line x1="163.35" y1="170.8" x2="163.35" y2="173.6" stroke="#555" stroke-width="0.8"/>
<line x1="31.3" y1="293.2" x2="33.5" y2="293.2" stroke="#555" stroke-width="0.8"/>
<line x1="177.6" y1="293.2" x2="175.4" y2="293.2" stroke="#555" stroke-width="0.8"/>
<line x1="31.3" y1="287.08" x2="32.6" y2="287.08" stroke="#555" stroke-width="0.8"/>
<line x1="177.6" y1="287.08" x2="176.3" y2="287.08" stroke="#555" stroke-width="0.8"/>
<line x1="31.3" y1="280.96" x2="32.6" y2="280.96" stroke="#555" stroke-width="0.8"/>
<line x1="177.6" y1="280.96" x2="176.3" y2="280.96" stroke="#555" stroke-width="0.8"/>
<line x1="31.3" y1="274.84" x2="32.6" y2="274.84" stroke="#555" stroke-width="0.8"/>
<line x1="177.6" y1="274.84" x2="176.3" y2="274.84" stroke="#555" stroke-width="0.8"/>
<line x1="31.3" y1="268.72" x2="33.5" y2="268.72" stroke="#555" stroke-width="0.8"/>
<line x1="177.6" y1="268.72" x2="175.4" y2="268.72" stroke="#555" stroke-width="0.8"/>
<line x1="31.3" y1="262.6" x2="32.6" y2="262.6" stroke="#555" stroke-width="0.8"/>
<line x1="177.6" y1="262.6" x2="176.3" y2="262.6" stroke="#555" stroke-width="0.8"/>
<line x1="31.3" y1="256.48" x2="32.6" y2="256.48" stroke="#555" stroke-width="0.8"/>
<line x1="177.6" y1="256.48" x2="176.3" y2="256.48" stroke="#555" stroke-width="0.8"/>
<line x1="31.3" y1="250.36" x2="32.6" y2="250.36" stroke="#555" stroke-width="0.8"/>
<line x1="177.6" y1="250.36" x2="176.3" y2="250.36" stroke="#555" stroke-width="0.8"/>
<line x1="31.3" y1="244.24" x2="33.5" y2="244.24" stroke="#555" stroke-width="0.8"/>
<line x1="177.6" y1="244.24" x2="175.4" y2="244.24" stroke="#555" stroke-width="0.8"/>
<line x1="31.3" y1="238.12" x2="32.6" y2="238.12" stroke="#555" stroke-width="0.8"/>
<line x1="177.6" y1="238.12" x2="176.3" y2="238.12" stroke="#555" stroke-width="0.8"/>
<line x1="31.3" y1="232" x2="32.6" y2="232" stroke="#555" stroke-width="0.8"/>
<line x1="177.6" y1="232" x2="176.3" y2="232" stroke="#555" stroke-width="0.8"/>
<line x1="31.3" y1="225.88" x2="32.6" y2="225.88" stroke="#555" stroke-width="0.8"/>
<line x1="177.6" y1="225.88" x2="176.3" y2="225.88" stroke="#555" stroke-width="0.8"/>
<line x1="31.3" y1="219.76" x2="33.5" y2="219.76" stroke="#555" stroke-width="0.8"/>
<line x1="177.6" y1="219.76" x2="175.4" y2="219.76" stroke="#555" stroke-width="0.8"/>
<line x1="31.3" y1="213.64" x2="32.6" y2="213.64" stroke="#555" stroke-width="0.8"/>
<line x1="177.6" y1="213.64" x2="176.3" y2="213.64" stroke="#555" stroke-width="0.8"/>
<line x1="31.3" y1="207.52" x2="32.6" y2="207.52" stroke="#555" stroke-width="0.8"/>
<line x1="177.6" y1="207.52" x2="176.3" y2="207.52" stroke="#555" stroke-width="0.8"/>
<line x1="31.3" y1="201.4" x2="32.6" y2="201.4" stroke="#555" stroke-width="0.8"/>
<line x1="177.6" y1="201.4" x2="176.3" y2="201.4" stroke="#555" stroke-width="0.8"/>
<line x1="31.3" y1="195.28" x2="33.5" y2="195.28" stroke="#555" stroke-width="0.8"/>
<line x1="177.6" y1="195.28" x2="175.4" y2="195.28" stroke="#555" stroke-width="0.8"/>
<line x1="31.3" y1="189.16" x2="32.6" y2="189.16" stroke="#555" stroke-width="0.8"/>
<line x1="177.6" y1="189.16" x2="176.3" y2="189.16" stroke="#555" stroke-width="0.8"/>
<line x1="31.3" y1="183.04" x2="32.6" y2="183.04" stroke="#555" stroke-width="0.8"/>
<line x1="177.6" y1="183.04" x2="176.3" y2="183.04" stroke="#555" stroke-width="0.8"/>
<line x1="31.3" y1="176.92" x2="32.6" y2="176.92" stroke="#555" stroke-width="0.8"/>
<line x1="177.6" y1="176.92" x2="176.3" y2="176.92" stroke="#555" stroke-width="0.8"/>
<line x1="31.3" y1="170.8" x2="33.5" y2="170.8" stroke="#555" stroke-width="0.8"/>
<line x1="177.6" y1="170.8" x2="175.4" y2="170.8" stroke="#555" stroke-width="0.8"/>
<text x="27.5" y="297.3" font-size="8.8" text-anchor="end" font-weight="bold" fill="#111" stroke="#111" stroke-width="0.25">0</text>
<text x="27.5" y="272.82" font-size="8.8" text-anchor="end" font-weight="bold" fill="#111" stroke="#111" stroke-width="0.25">20</text>
<text x="27.5" y="248.34" font-size="8.8" text-anchor="end" font-weight="bold" fill="#111" stroke="#111" stroke-width="0.25">40</text>
<text x="27.5" y="223.86" font-size="8.8" text-anchor="end" font-weight="bold" fill="#111" stroke="#111" stroke-width="0.25">60</text>
<text x="27.5" y="199.38" font-size="8.8" text-anchor="end" font-weight="bold" fill="#111" stroke="#111" stroke-width="0.25">80</text>
<text x="27.5" y="174.9" font-size="8.8" text-anchor="end" font-weight="bold" fill="#111" stroke="#111" stroke-width="0.25">100</text>
<text x="50.45" y="302.5" font-size="9.3" text-anchor="end" font-weight="bold" fill="#111" stroke="#111" stroke-width="0.25" transform="rotate(-45 50.45 302.5)">2009</text>
<text x="74.11" y="302.5" font-size="9.3" text-anchor="end" font-weight="bold" fill="#111" stroke="#111" stroke-width="0.25" transform="rotate(-45 74.11 302.5)">2011</text>
<text x="97.77" y="302.5" font-size="9.3" text-anchor="end" font-weight="bold" fill="#111" stroke="#111" stroke-width="0.25" transform="rotate(-45 97.77 302.5)">2013</text>
<text x="121.43" y="302.5" font-size="9.3" text-anchor="end" font-weight="bold" fill="#111" stroke="#111" stroke-width="0.25" transform="rotate(-45 121.43 302.5)">2015</text>
<text x="145.09" y="302.5" font-size="9.3" text-anchor="end" font-weight="bold" fill="#111" stroke="#111" stroke-width="0.25" transform="rotate(-45 145.09 302.5)">2017</text>
<text x="168.75" y="302.5" font-size="9.3" text-anchor="end" font-weight="bold" fill="#111" stroke="#111" stroke-width="0.25" transform="rotate(-45 168.75 302.5)">2019</text>
<text x="5.2" y="232" font-size="10" text-anchor="middle" font-weight="bold" fill="#111" stroke="#111" stroke-width="0.25" transform="rotate(-90 5.2 232)" dominant-baseline="central">MCS archetype&#160;&#160;[%]</text>
<text x="37.5" y="169.2" font-size="9.4" text-anchor="start" font-weight="bold" fill="#111" stroke="#111" stroke-width="0.25">(d)</text>
<rect x="213.6" y="170.8" width="146.3" height="122.4" fill="none" stroke="#848484" stroke-width="1.1"/>
<rect x="223.1" y="171.15" width="8.5" height="25.98" fill="#66cba6" stroke="#45bf92" stroke-width="0.7"/>
<rect x="223.1" y="197.83" width="8.5" height="15.46" fill="#f8806f" stroke="#f3604f" stroke-width="0.7"/>
<rect x="223.1" y="213.99" width="8.5" height="78.86" fill="#add5f0" stroke="#98cbee" stroke-width="0.7"/>
<rect x="234.93" y="171.15" width="8.5" height="25.49" fill="#66cba6" stroke="#45bf92" stroke-width="0.7"/>
<rect x="234.93" y="197.34" width="8.5" height="11.17" fill="#f8806f" stroke="#f3604f" stroke-width="0.7"/>
<rect x="234.93" y="209.22" width="8.5" height="83.63" fill="#add5f0" stroke="#98cbee" stroke-width="0.7"/>
<rect x="246.76" y="171.15" width="8.5" height="45.69" fill="#66cba6" stroke="#45bf92" stroke-width="0.7"/>
<rect x="246.76" y="217.54" width="8.5" height="30.27" fill="#f8806f" stroke="#f3604f" stroke-width="0.7"/>
<rect x="246.76" y="248.51" width="8.5" height="44.34" fill="#add5f0" stroke="#98cbee" stroke-width="0.7"/>
<rect x="258.59" y="171.15" width="8.5" height="12.03" fill="#66cba6" stroke="#45bf92" stroke-width="0.7"/>
<rect x="258.59" y="183.88" width="8.5" height="20.23" fill="#f8806f" stroke="#f3604f" stroke-width="0.7"/>
<rect x="258.59" y="204.81" width="8.5" height="88.04" fill="#add5f0" stroke="#98cbee" stroke-width="0.7"/>
<rect x="270.42" y="171.15" width="8.5" height="24.76" fill="#66cba6" stroke="#45bf92" stroke-width="0.7"/>
<rect x="270.42" y="196.61" width="8.5" height="11.91" fill="#f8806f" stroke="#f3604f" stroke-width="0.7"/>
<rect x="270.42" y="209.22" width="8.5" height="83.63" fill="#add5f0" stroke="#98cbee" stroke-width="0.7"/>
<rect x="282.25" y="171.15" width="8.5" height="21.94" fill="#66cba6" stroke="#45bf92" stroke-width="0.7"/>
<rect x="282.25" y="193.79" width="8.5" height="7.75" fill="#f8806f" stroke="#f3604f" stroke-width="0.7"/>
<rect x="282.25" y="202.24" width="8.5" height="90.61" fill="#add5f0" stroke="#98cbee" stroke-width="0.7"/>
<rect x="294.08" y="171.15" width="8.5" height="26.47" fill="#66cba6" stroke="#45bf92" stroke-width="0.7"/>
<rect x="294.08" y="198.32" width="8.5" height="18.88" fill="#f8806f" stroke="#f3604f" stroke-width="0.7"/>
<rect x="294.08" y="217.91" width="8.5" height="74.94" fill="#add5f0" stroke="#98cbee" stroke-width="0.7"/>
<rect x="305.91" y="171.15" width="8.5" height="27.94" fill="#66cba6" stroke="#45bf92" stroke-width="0.7"/>
<rect x="305.91" y="199.79" width="8.5" height="13.01" fill="#f8806f" stroke="#f3604f" stroke-width="0.7"/>
<rect x="305.91" y="213.5" width="8.5" height="79.35" fill="#add5f0" stroke="#98cbee" stroke-width="0.7"/>
<rect x="317.74" y="171.15" width="8.5" height="28.31" fill="#66cba6" stroke="#45bf92" stroke-width="0.7"/>
<rect x="317.74" y="200.16" width="8.5" height="13.62" fill="#f8806f" stroke="#f3604f" stroke-width="0.7"/>
<rect x="317.74" y="214.48" width="8.5" height="78.37" fill="#add5f0" stroke="#98cbee" stroke-width="0.7"/>
<rect x="329.57" y="171.15" width="8.5" height="28.68" fill="#66cba6" stroke="#45bf92" stroke-width="0.7"/>
<rect x="329.57" y="200.53" width="8.5" height="12.89" fill="#f8806f" stroke="#f3604f" stroke-width="0.7"/>
<rect x="329.57" y="214.11" width="8.5" height="78.74" fill="#add5f0" stroke="#98cbee" stroke-width="0.7"/>
<rect x="341.4" y="171.15" width="8.5" height="28.68" fill="#66cba6" stroke="#45bf92" stroke-width="0.7"/>
<rect x="341.4" y="200.53" width="8.5" height="10.56" fill="#f8806f" stroke="#f3604f" stroke-width="0.7"/>
<rect x="341.4" y="211.79" width="8.5" height="81.06" fill="#add5f0" stroke="#98cbee" stroke-width="0.7"/>
<line x1="213.6" y1="293.2" x2="359.9" y2="293.2" stroke="#848484" stroke-width="1.1"/>
<line x1="227.35" y1="293.2" x2="227.35" y2="290.4" stroke="#555" stroke-width="0.8"/>
<line x1="227.35" y1="170.8" x2="227.35" y2="173.6" stroke="#555" stroke-width="0.8"/>
<line x1="239.18" y1="293.2" x2="239.18" y2="290.4" stroke="#555" stroke-width="0.8"/>
<line x1="239.18" y1="170.8" x2="239.18" y2="173.6" stroke="#555" stroke-width="0.8"/>
<line x1="251.01" y1="293.2" x2="251.01" y2="290.4" stroke="#555" stroke-width="0.8"/>
<line x1="251.01" y1="170.8" x2="251.01" y2="173.6" stroke="#555" stroke-width="0.8"/>
<line x1="262.84" y1="293.2" x2="262.84" y2="290.4" stroke="#555" stroke-width="0.8"/>
<line x1="262.84" y1="170.8" x2="262.84" y2="173.6" stroke="#555" stroke-width="0.8"/>
<line x1="274.67" y1="293.2" x2="274.67" y2="290.4" stroke="#555" stroke-width="0.8"/>
<line x1="274.67" y1="170.8" x2="274.67" y2="173.6" stroke="#555" stroke-width="0.8"/>
<line x1="286.5" y1="293.2" x2="286.5" y2="290.4" stroke="#555" stroke-width="0.8"/>
<line x1="286.5" y1="170.8" x2="286.5" y2="173.6" stroke="#555" stroke-width="0.8"/>
<line x1="298.33" y1="293.2" x2="298.33" y2="290.4" stroke="#555" stroke-width="0.8"/>
<line x1="298.33" y1="170.8" x2="298.33" y2="173.6" stroke="#555" stroke-width="0.8"/>
<line x1="310.16" y1="293.2" x2="310.16" y2="290.4" stroke="#555" stroke-width="0.8"/>
<line x1="310.16" y1="170.8" x2="310.16" y2="173.6" stroke="#555" stroke-width="0.8"/>
<line x1="321.99" y1="293.2" x2="321.99" y2="290.4" stroke="#555" stroke-width="0.8"/>
<line x1="321.99" y1="170.8" x2="321.99" y2="173.6" stroke="#555" stroke-width="0.8"/>
<line x1="333.82" y1="293.2" x2="333.82" y2="290.4" stroke="#555" stroke-width="0.8"/>
<line x1="333.82" y1="170.8" x2="333.82" y2="173.6" stroke="#555" stroke-width="0.8"/>
<line x1="345.65" y1="293.2" x2="345.65" y2="290.4" stroke="#555" stroke-width="0.8"/>
<line x1="345.65" y1="170.8" x2="345.65" y2="173.6" stroke="#555" stroke-width="0.8"/>
<line x1="213.6" y1="293.2" x2="215.8" y2="293.2" stroke="#555" stroke-width="0.8"/>
<line x1="359.9" y1="293.2" x2="357.7" y2="293.2" stroke="#555" stroke-width="0.8"/>
<line x1="213.6" y1="287.08" x2="214.9" y2="287.08" stroke="#555" stroke-width="0.8"/>
<line x1="359.9" y1="287.08" x2="358.6" y2="287.08" stroke="#555" stroke-width="0.8"/>
<line x1="213.6" y1="280.96" x2="214.9" y2="280.96" stroke="#555" stroke-width="0.8"/>
<line x1="359.9" y1="280.96" x2="358.6" y2="280.96" stroke="#555" stroke-width="0.8"/>
<line x1="213.6" y1="274.84" x2="214.9" y2="274.84" stroke="#555" stroke-width="0.8"/>
<line x1="359.9" y1="274.84" x2="358.6" y2="274.84" stroke="#555" stroke-width="0.8"/>
<line x1="213.6" y1="268.72" x2="215.8" y2="268.72" stroke="#555" stroke-width="0.8"/>
<line x1="359.9" y1="268.72" x2="357.7" y2="268.72" stroke="#555" stroke-width="0.8"/>
<line x1="213.6" y1="262.6" x2="214.9" y2="262.6" stroke="#555" stroke-width="0.8"/>
<line x1="359.9" y1="262.6" x2="358.6" y2="262.6" stroke="#555" stroke-width="0.8"/>
<line x1="213.6" y1="256.48" x2="214.9" y2="256.48" stroke="#555" stroke-width="0.8"/>
<line x1="359.9" y1="256.48" x2="358.6" y2="256.48" stroke="#555" stroke-width="0.8"/>
<line x1="213.6" y1="250.36" x2="214.9" y2="250.36" stroke="#555" stroke-width="0.8"/>
<line x1="359.9" y1="250.36" x2="358.6" y2="250.36" stroke="#555" stroke-width="0.8"/>
<line x1="213.6" y1="244.24" x2="215.8" y2="244.24" stroke="#555" stroke-width="0.8"/>
<line x1="359.9" y1="244.24" x2="357.7" y2="244.24" stroke="#555" stroke-width="0.8"/>
<line x1="213.6" y1="238.12" x2="214.9" y2="238.12" stroke="#555" stroke-width="0.8"/>
<line x1="359.9" y1="238.12" x2="358.6" y2="238.12" stroke="#555" stroke-width="0.8"/>
<line x1="213.6" y1="232" x2="214.9" y2="232" stroke="#555" stroke-width="0.8"/>
<line x1="359.9" y1="232" x2="358.6" y2="232" stroke="#555" stroke-width="0.8"/>
<line x1="213.6" y1="225.88" x2="214.9" y2="225.88" stroke="#555" stroke-width="0.8"/>
<line x1="359.9" y1="225.88" x2="358.6" y2="225.88" stroke="#555" stroke-width="0.8"/>
<line x1="213.6" y1="219.76" x2="215.8" y2="219.76" stroke="#555" stroke-width="0.8"/>
<line x1="359.9" y1="219.76" x2="357.7" y2="219.76" stroke="#555" stroke-width="0.8"/>
<line x1="213.6" y1="213.64" x2="214.9" y2="213.64" stroke="#555" stroke-width="0.8"/>
<line x1="359.9" y1="213.64" x2="358.6" y2="213.64" stroke="#555" stroke-width="0.8"/>
<line x1="213.6" y1="207.52" x2="214.9" y2="207.52" stroke="#555" stroke-width="0.8"/>
<line x1="359.9" y1="207.52" x2="358.6" y2="207.52" stroke="#555" stroke-width="0.8"/>
<line x1="213.6" y1="201.4" x2="214.9" y2="201.4" stroke="#555" stroke-width="0.8"/>
<line x1="359.9" y1="201.4" x2="358.6" y2="201.4" stroke="#555" stroke-width="0.8"/>
<line x1="213.6" y1="195.28" x2="215.8" y2="195.28" stroke="#555" stroke-width="0.8"/>
<line x1="359.9" y1="195.28" x2="357.7" y2="195.28" stroke="#555" stroke-width="0.8"/>
<line x1="213.6" y1="189.16" x2="214.9" y2="189.16" stroke="#555" stroke-width="0.8"/>
<line x1="359.9" y1="189.16" x2="358.6" y2="189.16" stroke="#555" stroke-width="0.8"/>
<line x1="213.6" y1="183.04" x2="214.9" y2="183.04" stroke="#555" stroke-width="0.8"/>
<line x1="359.9" y1="183.04" x2="358.6" y2="183.04" stroke="#555" stroke-width="0.8"/>
<line x1="213.6" y1="176.92" x2="214.9" y2="176.92" stroke="#555" stroke-width="0.8"/>
<line x1="359.9" y1="176.92" x2="358.6" y2="176.92" stroke="#555" stroke-width="0.8"/>
<line x1="213.6" y1="170.8" x2="215.8" y2="170.8" stroke="#555" stroke-width="0.8"/>
<line x1="359.9" y1="170.8" x2="357.7" y2="170.8" stroke="#555" stroke-width="0.8"/>
<text x="209.8" y="297.3" font-size="8.8" text-anchor="end" font-weight="bold" fill="#111" stroke="#111" stroke-width="0.25">0</text>
<text x="209.8" y="272.82" font-size="8.8" text-anchor="end" font-weight="bold" fill="#111" stroke="#111" stroke-width="0.25">20</text>
<text x="209.8" y="248.34" font-size="8.8" text-anchor="end" font-weight="bold" fill="#111" stroke="#111" stroke-width="0.25">40</text>
<text x="209.8" y="223.86" font-size="8.8" text-anchor="end" font-weight="bold" fill="#111" stroke="#111" stroke-width="0.25">60</text>
<text x="209.8" y="199.38" font-size="8.8" text-anchor="end" font-weight="bold" fill="#111" stroke="#111" stroke-width="0.25">80</text>
<text x="209.8" y="174.9" font-size="8.8" text-anchor="end" font-weight="bold" fill="#111" stroke="#111" stroke-width="0.25">100</text>
<text x="232.75" y="302.5" font-size="9.3" text-anchor="end" font-weight="bold" fill="#111" stroke="#111" stroke-width="0.25" transform="rotate(-45 232.75 302.5)">2009</text>
<text x="256.41" y="302.5" font-size="9.3" text-anchor="end" font-weight="bold" fill="#111" stroke="#111" stroke-width="0.25" transform="rotate(-45 256.41 302.5)">2011</text>
<text x="280.07" y="302.5" font-size="9.3" text-anchor="end" font-weight="bold" fill="#111" stroke="#111" stroke-width="0.25" transform="rotate(-45 280.07 302.5)">2013</text>
<text x="303.73" y="302.5" font-size="9.3" text-anchor="end" font-weight="bold" fill="#111" stroke="#111" stroke-width="0.25" transform="rotate(-45 303.73 302.5)">2015</text>
<text x="327.39" y="302.5" font-size="9.3" text-anchor="end" font-weight="bold" fill="#111" stroke="#111" stroke-width="0.25" transform="rotate(-45 327.39 302.5)">2017</text>
<text x="351.05" y="302.5" font-size="9.3" text-anchor="end" font-weight="bold" fill="#111" stroke="#111" stroke-width="0.25" transform="rotate(-45 351.05 302.5)">2019</text>
<text x="187.5" y="232" font-size="10" text-anchor="middle" font-weight="bold" fill="#111" stroke="#111" stroke-width="0.25" transform="rotate(-90 187.5 232)" dominant-baseline="central">MCS archetype&#160;&#160;[%]</text>
<text x="219.8" y="169.2" font-size="9.4" text-anchor="start" font-weight="bold" fill="#111" stroke="#111" stroke-width="0.25">(e)</text>
<rect x="395" y="170.8" width="146.3" height="122.4" fill="none" stroke="#848484" stroke-width="1.1"/>
<rect x="404.5" y="171.15" width="8.5" height="30.39" fill="#66cba6" stroke="#45bf92" stroke-width="0.7"/>
<rect x="404.5" y="202.24" width="8.5" height="12.89" fill="#f8806f" stroke="#f3604f" stroke-width="0.7"/>
<rect x="404.5" y="215.83" width="8.5" height="77.02" fill="#add5f0" stroke="#98cbee" stroke-width="0.7"/>
<rect x="416.33" y="171.15" width="8.5" height="44.34" fill="#66cba6" stroke="#45bf92" stroke-width="0.7"/>
<rect x="416.33" y="216.19" width="8.5" height="11.54" fill="#f8806f" stroke="#f3604f" stroke-width="0.7"/>
<rect x="416.33" y="228.43" width="8.5" height="64.42" fill="#add5f0" stroke="#98cbee" stroke-width="0.7"/>
<rect x="428.16" y="171.15" width="8.5" height="14.11" fill="#66cba6" stroke="#45bf92" stroke-width="0.7"/>
<rect x="428.16" y="185.96" width="8.5" height="7.13" fill="#f8806f" stroke="#f3604f" stroke-width="0.7"/>
<rect x="428.16" y="193.79" width="8.5" height="99.06" fill="#add5f0" stroke="#98cbee" stroke-width="0.7"/>
<rect x="439.99" y="171.15" width="8.5" height="30.76" fill="#66cba6" stroke="#45bf92" stroke-width="0.7"/>
<rect x="439.99" y="202.61" width="8.5" height="15.09" fill="#f8806f" stroke="#f3604f" stroke-width="0.7"/>
<rect x="439.99" y="218.4" width="8.5" height="74.45" fill="#add5f0" stroke="#98cbee" stroke-width="0.7"/>
<rect x="451.82" y="171.15" width="8.5" height="37.86" fill="#66cba6" stroke="#45bf92" stroke-width="0.7"/>
<rect x="451.82" y="209.71" width="8.5" height="14.11" fill="#f8806f" stroke="#f3604f" stroke-width="0.7"/>
<rect x="451.82" y="224.52" width="8.5" height="68.33" fill="#add5f0" stroke="#98cbee" stroke-width="0.7"/>
<rect x="463.65" y="171.15" width="8.5" height="32.84" fill="#66cba6" stroke="#45bf92" stroke-width="0.7"/>
<rect x="463.65" y="204.69" width="8.5" height="19.37" fill="#f8806f" stroke="#f3604f" stroke-width="0.7"/>
<rect x="463.65" y="224.76" width="8.5" height="68.09" fill="#add5f0" stroke="#98cbee" stroke-width="0.7"/>
<rect x="475.48" y="171.15" width="8.5" height="39.69" fill="#66cba6" stroke="#45bf92" stroke-width="0.7"/>
<rect x="475.48" y="211.54" width="8.5" height="12.52" fill="#f8806f" stroke="#f3604f" stroke-width="0.7"/>
<rect x="475.48" y="224.76" width="8.5" height="68.09" fill="#add5f0" stroke="#98cbee" stroke-width="0.7"/>
<rect x="487.31" y="171.15" width="8.5" height="38.22" fill="#66cba6" stroke="#45bf92" stroke-width="0.7"/>
<rect x="487.31" y="210.07" width="8.5" height="16.8" fill="#f8806f" stroke="#f3604f" stroke-width="0.7"/>
<rect x="487.31" y="227.58" width="8.5" height="65.27" fill="#add5f0" stroke="#98cbee" stroke-width="0.7"/>
<rect x="499.14" y="171.15" width="8.5" height="24.02" fill="#66cba6" stroke="#45bf92" stroke-width="0.7"/>
<rect x="499.14" y="195.87" width="8.5" height="12.52" fill="#f8806f" stroke="#f3604f" stroke-width="0.7"/>
<rect x="499.14" y="209.09" width="8.5" height="83.76" fill="#add5f0" stroke="#98cbee" stroke-width="0.7"/>
<rect x="510.97" y="171.15" width="8.5" height="37.24" fill="#66cba6" stroke="#45bf92" stroke-width="0.7"/>
<rect x="510.97" y="209.09" width="8.5" height="11.42" fill="#f8806f" stroke="#f3604f" stroke-width="0.7"/>
<rect x="510.97" y="221.21" width="8.5" height="71.64" fill="#add5f0" stroke="#98cbee" stroke-width="0.7"/>
<rect x="522.8" y="171.15" width="8.5" height="48.75" fill="#66cba6" stroke="#45bf92" stroke-width="0.7"/>
<rect x="522.8" y="220.6" width="8.5" height="18.76" fill="#f8806f" stroke="#f3604f" stroke-width="0.7"/>
<rect x="522.8" y="240.06" width="8.5" height="52.79" fill="#add5f0" stroke="#98cbee" stroke-width="0.7"/>
<line x1="395" y1="293.2" x2="541.3" y2="293.2" stroke="#848484" stroke-width="1.1"/>
<line x1="408.75" y1="293.2" x2="408.75" y2="290.4" stroke="#555" stroke-width="0.8"/>
<line x1="408.75" y1="170.8" x2="408.75" y2="173.6" stroke="#555" stroke-width="0.8"/>
<line x1="420.58" y1="293.2" x2="420.58" y2="290.4" stroke="#555" stroke-width="0.8"/>
<line x1="420.58" y1="170.8" x2="420.58" y2="173.6" stroke="#555" stroke-width="0.8"/>
<line x1="432.41" y1="293.2" x2="432.41" y2="290.4" stroke="#555" stroke-width="0.8"/>
<line x1="432.41" y1="170.8" x2="432.41" y2="173.6" stroke="#555" stroke-width="0.8"/>
<line x1="444.24" y1="293.2" x2="444.24" y2="290.4" stroke="#555" stroke-width="0.8"/>
<line x1="444.24" y1="170.8" x2="444.24" y2="173.6" stroke="#555" stroke-width="0.8"/>
<line x1="456.07" y1="293.2" x2="456.07" y2="290.4" stroke="#555" stroke-width="0.8"/>
<line x1="456.07" y1="170.8" x2="456.07" y2="173.6" stroke="#555" stroke-width="0.8"/>
<line x1="467.9" y1="293.2" x2="467.9" y2="290.4" stroke="#555" stroke-width="0.8"/>
<line x1="467.9" y1="170.8" x2="467.9" y2="173.6" stroke="#555" stroke-width="0.8"/>
<line x1="479.73" y1="293.2" x2="479.73" y2="290.4" stroke="#555" stroke-width="0.8"/>
<line x1="479.73" y1="170.8" x2="479.73" y2="173.6" stroke="#555" stroke-width="0.8"/>
<line x1="491.56" y1="293.2" x2="491.56" y2="290.4" stroke="#555" stroke-width="0.8"/>
<line x1="491.56" y1="170.8" x2="491.56" y2="173.6" stroke="#555" stroke-width="0.8"/>
<line x1="503.39" y1="293.2" x2="503.39" y2="290.4" stroke="#555" stroke-width="0.8"/>
<line x1="503.39" y1="170.8" x2="503.39" y2="173.6" stroke="#555" stroke-width="0.8"/>
<line x1="515.22" y1="293.2" x2="515.22" y2="290.4" stroke="#555" stroke-width="0.8"/>
<line x1="515.22" y1="170.8" x2="515.22" y2="173.6" stroke="#555" stroke-width="0.8"/>
<line x1="527.05" y1="293.2" x2="527.05" y2="290.4" stroke="#555" stroke-width="0.8"/>
<line x1="527.05" y1="170.8" x2="527.05" y2="173.6" stroke="#555" stroke-width="0.8"/>
<line x1="395" y1="293.2" x2="397.2" y2="293.2" stroke="#555" stroke-width="0.8"/>
<line x1="541.3" y1="293.2" x2="539.1" y2="293.2" stroke="#555" stroke-width="0.8"/>
<line x1="395" y1="287.08" x2="396.3" y2="287.08" stroke="#555" stroke-width="0.8"/>
<line x1="541.3" y1="287.08" x2="540" y2="287.08" stroke="#555" stroke-width="0.8"/>
<line x1="395" y1="280.96" x2="396.3" y2="280.96" stroke="#555" stroke-width="0.8"/>
<line x1="541.3" y1="280.96" x2="540" y2="280.96" stroke="#555" stroke-width="0.8"/>
<line x1="395" y1="274.84" x2="396.3" y2="274.84" stroke="#555" stroke-width="0.8"/>
<line x1="541.3" y1="274.84" x2="540" y2="274.84" stroke="#555" stroke-width="0.8"/>
<line x1="395" y1="268.72" x2="397.2" y2="268.72" stroke="#555" stroke-width="0.8"/>
<line x1="541.3" y1="268.72" x2="539.1" y2="268.72" stroke="#555" stroke-width="0.8"/>
<line x1="395" y1="262.6" x2="396.3" y2="262.6" stroke="#555" stroke-width="0.8"/>
<line x1="541.3" y1="262.6" x2="540" y2="262.6" stroke="#555" stroke-width="0.8"/>
<line x1="395" y1="256.48" x2="396.3" y2="256.48" stroke="#555" stroke-width="0.8"/>
<line x1="541.3" y1="256.48" x2="540" y2="256.48" stroke="#555" stroke-width="0.8"/>
<line x1="395" y1="250.36" x2="396.3" y2="250.36" stroke="#555" stroke-width="0.8"/>
<line x1="541.3" y1="250.36" x2="540" y2="250.36" stroke="#555" stroke-width="0.8"/>
<line x1="395" y1="244.24" x2="397.2" y2="244.24" stroke="#555" stroke-width="0.8"/>
<line x1="541.3" y1="244.24" x2="539.1" y2="244.24" stroke="#555" stroke-width="0.8"/>
<line x1="395" y1="238.12" x2="396.3" y2="238.12" stroke="#555" stroke-width="0.8"/>
<line x1="541.3" y1="238.12" x2="540" y2="238.12" stroke="#555" stroke-width="0.8"/>
<line x1="395" y1="232" x2="396.3" y2="232" stroke="#555" stroke-width="0.8"/>
<line x1="541.3" y1="232" x2="540" y2="232" stroke="#555" stroke-width="0.8"/>
<line x1="395" y1="225.88" x2="396.3" y2="225.88" stroke="#555" stroke-width="0.8"/>
<line x1="541.3" y1="225.88" x2="540" y2="225.88" stroke="#555" stroke-width="0.8"/>
<line x1="395" y1="219.76" x2="397.2" y2="219.76" stroke="#555" stroke-width="0.8"/>
<line x1="541.3" y1="219.76" x2="539.1" y2="219.76" stroke="#555" stroke-width="0.8"/>
<line x1="395" y1="213.64" x2="396.3" y2="213.64" stroke="#555" stroke-width="0.8"/>
<line x1="541.3" y1="213.64" x2="540" y2="213.64" stroke="#555" stroke-width="0.8"/>
<line x1="395" y1="207.52" x2="396.3" y2="207.52" stroke="#555" stroke-width="0.8"/>
<line x1="541.3" y1="207.52" x2="540" y2="207.52" stroke="#555" stroke-width="0.8"/>
<line x1="395" y1="201.4" x2="396.3" y2="201.4" stroke="#555" stroke-width="0.8"/>
<line x1="541.3" y1="201.4" x2="540" y2="201.4" stroke="#555" stroke-width="0.8"/>
<line x1="395" y1="195.28" x2="397.2" y2="195.28" stroke="#555" stroke-width="0.8"/>
<line x1="541.3" y1="195.28" x2="539.1" y2="195.28" stroke="#555" stroke-width="0.8"/>
<line x1="395" y1="189.16" x2="396.3" y2="189.16" stroke="#555" stroke-width="0.8"/>
<line x1="541.3" y1="189.16" x2="540" y2="189.16" stroke="#555" stroke-width="0.8"/>
<line x1="395" y1="183.04" x2="396.3" y2="183.04" stroke="#555" stroke-width="0.8"/>
<line x1="541.3" y1="183.04" x2="540" y2="183.04" stroke="#555" stroke-width="0.8"/>
<line x1="395" y1="176.92" x2="396.3" y2="176.92" stroke="#555" stroke-width="0.8"/>
<line x1="541.3" y1="176.92" x2="540" y2="176.92" stroke="#555" stroke-width="0.8"/>
<line x1="395" y1="170.8" x2="397.2" y2="170.8" stroke="#555" stroke-width="0.8"/>
<line x1="541.3" y1="170.8" x2="539.1" y2="170.8" stroke="#555" stroke-width="0.8"/>
<text x="391.2" y="297.3" font-size="8.8" text-anchor="end" font-weight="bold" fill="#111" stroke="#111" stroke-width="0.25">0</text>
<text x="391.2" y="272.82" font-size="8.8" text-anchor="end" font-weight="bold" fill="#111" stroke="#111" stroke-width="0.25">20</text>
<text x="391.2" y="248.34" font-size="8.8" text-anchor="end" font-weight="bold" fill="#111" stroke="#111" stroke-width="0.25">40</text>
<text x="391.2" y="223.86" font-size="8.8" text-anchor="end" font-weight="bold" fill="#111" stroke="#111" stroke-width="0.25">60</text>
<text x="391.2" y="199.38" font-size="8.8" text-anchor="end" font-weight="bold" fill="#111" stroke="#111" stroke-width="0.25">80</text>
<text x="391.2" y="174.9" font-size="8.8" text-anchor="end" font-weight="bold" fill="#111" stroke="#111" stroke-width="0.25">100</text>
<text x="414.15" y="302.5" font-size="9.3" text-anchor="end" font-weight="bold" fill="#111" stroke="#111" stroke-width="0.25" transform="rotate(-45 414.15 302.5)">2009</text>
<text x="437.81" y="302.5" font-size="9.3" text-anchor="end" font-weight="bold" fill="#111" stroke="#111" stroke-width="0.25" transform="rotate(-45 437.81 302.5)">2011</text>
<text x="461.47" y="302.5" font-size="9.3" text-anchor="end" font-weight="bold" fill="#111" stroke="#111" stroke-width="0.25" transform="rotate(-45 461.47 302.5)">2013</text>
<text x="485.13" y="302.5" font-size="9.3" text-anchor="end" font-weight="bold" fill="#111" stroke="#111" stroke-width="0.25" transform="rotate(-45 485.13 302.5)">2015</text>
<text x="508.79" y="302.5" font-size="9.3" text-anchor="end" font-weight="bold" fill="#111" stroke="#111" stroke-width="0.25" transform="rotate(-45 508.79 302.5)">2017</text>
<text x="532.45" y="302.5" font-size="9.3" text-anchor="end" font-weight="bold" fill="#111" stroke="#111" stroke-width="0.25" transform="rotate(-45 532.45 302.5)">2019</text>
<text x="368.9" y="232" font-size="10" text-anchor="middle" font-weight="bold" fill="#111" stroke="#111" stroke-width="0.25" transform="rotate(-90 368.9 232)" dominant-baseline="central">MCS archetype&#160;&#160;[%]</text>
<text x="401.2" y="169.2" font-size="9.4" text-anchor="start" font-weight="bold" fill="#111" stroke="#111" stroke-width="0.25">(f)</text>
<rect x="547.8" y="173.3" width="14.2" height="6.2" fill="#add5f0" stroke="#98cbee" stroke-width="0.6"/>
<text x="564.2" y="178.9" font-size="7.6" text-anchor="start" font-weight="bold" fill="#111" stroke="#111" stroke-width="0.25">TS</text>
<rect x="547.8" y="183.05" width="14.2" height="6.2" fill="#f8806f" stroke="#f3604f" stroke-width="0.6"/>
<text x="564.2" y="188.65" font-size="7.6" text-anchor="start" font-weight="bold" fill="#111" stroke="#111" stroke-width="0.25">PS</text>
<rect x="547.8" y="192.8" width="14.2" height="6.2" fill="#66cba6" stroke="#45bf92" stroke-width="0.6"/>
<text x="564.2" y="198.4" font-size="7.6" text-anchor="start" font-weight="bold" fill="#111" stroke="#111" stroke-width="0.25">LS</text>
<rect x="31.15" y="436.61" width="29.39" height="5.1" fill="#add5f0" stroke="#98cbee" stroke-width="0.7"/>
<rect x="31.15" y="426.33" width="39.15" height="5.1" fill="#add5f0" stroke="#98cbee" stroke-width="0.7"/>
<rect x="31.15" y="416.05" width="32.16" height="5.1" fill="#add5f0" stroke="#98cbee" stroke-width="0.7"/>
<rect x="31.15" y="405.77" width="26.47" height="5.1" fill="#add5f0" stroke="#98cbee" stroke-width="0.7"/>
<rect x="31.15" y="395.49" width="11.5" height="5.1" fill="#add5f0" stroke="#98cbee" stroke-width="0.7"/>
<rect x="31.15" y="385.21" width="3.2" height="5.1" fill="#add5f0" stroke="#98cbee" stroke-width="0.7"/>
<text x="61.6" y="354.4" font-size="10" text-anchor="middle" font-weight="bold" fill="#111" stroke="#111" stroke-width="0.25">TS</text>
<line x1="47.07" y1="444.3" x2="47.07" y2="442.1" stroke="#555" stroke-width="0.8"/>
<line x1="47.07" y1="341.5" x2="47.07" y2="343.7" stroke="#555" stroke-width="0.8"/>
<line x1="63.33" y1="444.3" x2="63.33" y2="442.1" stroke="#555" stroke-width="0.8"/>
<line x1="63.33" y1="341.5" x2="63.33" y2="343.7" stroke="#555" stroke-width="0.8"/>
<text x="30.8" y="455.8" font-size="8.6" text-anchor="middle" font-weight="bold" fill="#111" stroke="#111" stroke-width="0.25">0</text>
<text x="47.07" y="455.8" font-size="8.6" text-anchor="middle" font-weight="bold" fill="#111" stroke="#111" stroke-width="0.25">10</text>
<text x="63.33" y="455.8" font-size="8.6" text-anchor="middle" font-weight="bold" fill="#111" stroke="#111" stroke-width="0.25">20</text>
<rect x="79.95" y="436.61" width="32" height="5.1" fill="#f8806f" stroke="#f3604f" stroke-width="0.7"/>
<rect x="79.95" y="426.33" width="27.93" height="5.1" fill="#f8806f" stroke="#f3604f" stroke-width="0.7"/>
<rect x="79.95" y="416.05" width="27.93" height="5.1" fill="#f8806f" stroke="#f3604f" stroke-width="0.7"/>
<rect x="79.95" y="405.77" width="27.93" height="5.1" fill="#f8806f" stroke="#f3604f" stroke-width="0.7"/>
<rect x="79.95" y="395.49" width="29.88" height="5.1" fill="#f8806f" stroke="#f3604f" stroke-width="0.7"/>
<rect x="79.95" y="385.21" width="3.37" height="5.1" fill="#f8806f" stroke="#f3604f" stroke-width="0.7"/>
<rect x="79.95" y="364.65" width="1.58" height="5.1" fill="#f8806f" stroke="#f3604f" stroke-width="0.7"/>
<text x="110.4" y="354.4" font-size="10" text-anchor="middle" font-weight="bold" fill="#111" stroke="#111" stroke-width="0.25">PS</text>
<line x1="95.87" y1="444.3" x2="95.87" y2="442.1" stroke="#555" stroke-width="0.8"/>
<line x1="95.87" y1="341.5" x2="95.87" y2="343.7" stroke="#555" stroke-width="0.8"/>
<line x1="112.13" y1="444.3" x2="112.13" y2="442.1" stroke="#555" stroke-width="0.8"/>
<line x1="112.13" y1="341.5" x2="112.13" y2="343.7" stroke="#555" stroke-width="0.8"/>
<text x="79.6" y="455.8" font-size="8.6" text-anchor="middle" font-weight="bold" fill="#111" stroke="#111" stroke-width="0.25">0</text>
<text x="95.87" y="455.8" font-size="8.6" text-anchor="middle" font-weight="bold" fill="#111" stroke="#111" stroke-width="0.25">10</text>
<text x="112.13" y="455.8" font-size="8.6" text-anchor="middle" font-weight="bold" fill="#111" stroke="#111" stroke-width="0.25">20</text>
<line x1="79.6" y1="341.5" x2="79.6" y2="444.3" stroke="#333" stroke-width="0.9"/>
<line x1="78.4" y1="444.3" x2="80.8" y2="444.3" stroke="#333" stroke-width="0.8"/>
<line x1="78.4" y1="423.74" x2="80.8" y2="423.74" stroke="#333" stroke-width="0.8"/>
<line x1="78.4" y1="403.18" x2="80.8" y2="403.18" stroke="#333" stroke-width="0.8"/>
<line x1="78.4" y1="382.62" x2="80.8" y2="382.62" stroke="#333" stroke-width="0.8"/>
<line x1="78.4" y1="362.06" x2="80.8" y2="362.06" stroke="#333" stroke-width="0.8"/>
<line x1="78.4" y1="341.5" x2="80.8" y2="341.5" stroke="#333" stroke-width="0.8"/>
<rect x="128.75" y="436.61" width="40.62" height="5.1" fill="#66cba6" stroke="#45bf92" stroke-width="0.7"/>
<rect x="128.75" y="426.33" width="25.33" height="5.1" fill="#66cba6" stroke="#45bf92" stroke-width="0.7"/>
<rect x="128.75" y="416.05" width="24.35" height="5.1" fill="#66cba6" stroke="#45bf92" stroke-width="0.7"/>
<rect x="128.75" y="405.77" width="27.93" height="5.1" fill="#66cba6" stroke="#45bf92" stroke-width="0.7"/>
<rect x="128.75" y="395.49" width="13.45" height="5.1" fill="#66cba6" stroke="#45bf92" stroke-width="0.7"/>
<rect x="128.75" y="385.21" width="3.94" height="5.1" fill="#66cba6" stroke="#45bf92" stroke-width="0.7"/>
<text x="159.2" y="354.4" font-size="10" text-anchor="middle" font-weight="bold" fill="#111" stroke="#111" stroke-width="0.25">LS</text>
<line x1="144.67" y1="444.3" x2="144.67" y2="442.1" stroke="#555" stroke-width="0.8"/>
<line x1="144.67" y1="341.5" x2="144.67" y2="343.7" stroke="#555" stroke-width="0.8"/>
<line x1="160.93" y1="444.3" x2="160.93" y2="442.1" stroke="#555" stroke-width="0.8"/>
<line x1="160.93" y1="341.5" x2="160.93" y2="343.7" stroke="#555" stroke-width="0.8"/>
<text x="128.4" y="455.8" font-size="8.6" text-anchor="middle" font-weight="bold" fill="#111" stroke="#111" stroke-width="0.25">0</text>
<text x="144.67" y="455.8" font-size="8.6" text-anchor="middle" font-weight="bold" fill="#111" stroke="#111" stroke-width="0.25">10</text>
<text x="160.93" y="455.8" font-size="8.6" text-anchor="middle" font-weight="bold" fill="#111" stroke="#111" stroke-width="0.25">20</text>
<line x1="128.4" y1="341.5" x2="128.4" y2="444.3" stroke="#333" stroke-width="0.9"/>
<line x1="127.2" y1="444.3" x2="129.6" y2="444.3" stroke="#333" stroke-width="0.8"/>
<line x1="127.2" y1="423.74" x2="129.6" y2="423.74" stroke="#333" stroke-width="0.8"/>
<line x1="127.2" y1="403.18" x2="129.6" y2="403.18" stroke="#333" stroke-width="0.8"/>
<line x1="127.2" y1="382.62" x2="129.6" y2="382.62" stroke="#333" stroke-width="0.8"/>
<line x1="127.2" y1="362.06" x2="129.6" y2="362.06" stroke="#333" stroke-width="0.8"/>
<line x1="127.2" y1="341.5" x2="129.6" y2="341.5" stroke="#333" stroke-width="0.8"/>
<rect x="30.8" y="341.5" width="146.4" height="102.8" fill="none" stroke="#848484" stroke-width="1.1"/>
<line x1="30.8" y1="444.3" x2="32.4" y2="444.3" stroke="#777" stroke-width="0.8"/>
<line x1="177.2" y1="444.3" x2="175.6" y2="444.3" stroke="#777" stroke-width="0.8"/>
<line x1="30.8" y1="423.74" x2="32.4" y2="423.74" stroke="#777" stroke-width="0.8"/>
<line x1="177.2" y1="423.74" x2="175.6" y2="423.74" stroke="#777" stroke-width="0.8"/>
<line x1="30.8" y1="403.18" x2="32.4" y2="403.18" stroke="#777" stroke-width="0.8"/>
<line x1="177.2" y1="403.18" x2="175.6" y2="403.18" stroke="#777" stroke-width="0.8"/>
<line x1="30.8" y1="382.62" x2="32.4" y2="382.62" stroke="#777" stroke-width="0.8"/>
<line x1="177.2" y1="382.62" x2="175.6" y2="382.62" stroke="#777" stroke-width="0.8"/>
<line x1="30.8" y1="362.06" x2="32.4" y2="362.06" stroke="#777" stroke-width="0.8"/>
<line x1="177.2" y1="362.06" x2="175.6" y2="362.06" stroke="#777" stroke-width="0.8"/>
<line x1="30.8" y1="341.5" x2="32.4" y2="341.5" stroke="#777" stroke-width="0.8"/>
<line x1="177.2" y1="341.5" x2="175.6" y2="341.5" stroke="#777" stroke-width="0.8"/>
<text x="27.5" y="448.1" font-size="8.8" text-anchor="end" font-weight="bold" fill="#111" stroke="#111" stroke-width="0.25">0</text>
<text x="27.5" y="427.54" font-size="8.8" text-anchor="end" font-weight="bold" fill="#111" stroke="#111" stroke-width="0.25">0.2</text>
<text x="27.5" y="406.98" font-size="8.8" text-anchor="end" font-weight="bold" fill="#111" stroke="#111" stroke-width="0.25">0.4</text>
<text x="27.5" y="386.42" font-size="8.8" text-anchor="end" font-weight="bold" fill="#111" stroke="#111" stroke-width="0.25">0.6</text>
<text x="27.5" y="365.86" font-size="8.8" text-anchor="end" font-weight="bold" fill="#111" stroke="#111" stroke-width="0.25">0.8</text>
<text x="27.5" y="345.3" font-size="8.8" text-anchor="end" font-weight="bold" fill="#111" stroke="#111" stroke-width="0.25">1</text>
<text x="8.5" y="392.9" font-size="10.4" text-anchor="middle" font-weight="bold" fill="#111" stroke="#111" stroke-width="0.25" transform="rotate(-90 8.5 392.9)" dominant-baseline="central">CPR</text>
<text x="104" y="468" font-size="9.2" text-anchor="middle" font-weight="bold" fill="#111" stroke="#111" stroke-width="0.25">PDF [%]</text>
<text x="37.3" y="339.5" font-size="9.2" text-anchor="start" font-weight="bold" fill="#111" stroke="#111" stroke-width="0.25">(g)</text>
<rect x="213.25" y="436.61" width="22.07" height="5.1" fill="#add5f0" stroke="#98cbee" stroke-width="0.7"/>
<rect x="213.25" y="426.33" width="30.53" height="5.1" fill="#add5f0" stroke="#98cbee" stroke-width="0.7"/>
<rect x="213.25" y="416.05" width="31.51" height="5.1" fill="#add5f0" stroke="#98cbee" stroke-width="0.7"/>
<rect x="213.25" y="405.77" width="30.86" height="5.1" fill="#add5f0" stroke="#98cbee" stroke-width="0.7"/>
<rect x="213.25" y="395.49" width="24.19" height="5.1" fill="#add5f0" stroke="#98cbee" stroke-width="0.7"/>
<rect x="213.25" y="385.21" width="10.2" height="5.1" fill="#add5f0" stroke="#98cbee" stroke-width="0.7"/>
<rect x="212.9" y="374.58" width="0.49" height="5.8" fill="#98cbee"/>
<text x="243.7" y="354.4" font-size="10" text-anchor="middle" font-weight="bold" fill="#111" stroke="#111" stroke-width="0.25">TS</text>
<line x1="229.17" y1="444.3" x2="229.17" y2="442.1" stroke="#555" stroke-width="0.8"/>
<line x1="229.17" y1="341.5" x2="229.17" y2="343.7" stroke="#555" stroke-width="0.8"/>
<line x1="245.43" y1="444.3" x2="245.43" y2="442.1" stroke="#555" stroke-width="0.8"/>
<line x1="245.43" y1="341.5" x2="245.43" y2="343.7" stroke="#555" stroke-width="0.8"/>
<text x="212.9" y="455.8" font-size="8.6" text-anchor="middle" font-weight="bold" fill="#111" stroke="#111" stroke-width="0.25">0</text>
<text x="229.17" y="455.8" font-size="8.6" text-anchor="middle" font-weight="bold" fill="#111" stroke="#111" stroke-width="0.25">10</text>
<text x="245.43" y="455.8" font-size="8.6" text-anchor="middle" font-weight="bold" fill="#111" stroke="#111" stroke-width="0.25">20</text>
<rect x="262.05" y="436.61" width="19.8" height="5.1" fill="#f8806f" stroke="#f3604f" stroke-width="0.7"/>
<rect x="262.05" y="426.33" width="29.88" height="5.1" fill="#f8806f" stroke="#f3604f" stroke-width="0.7"/>
<rect x="262.05" y="416.05" width="29.88" height="5.1" fill="#f8806f" stroke="#f3604f" stroke-width="0.7"/>
<rect x="262.05" y="405.77" width="33.79" height="5.1" fill="#f8806f" stroke="#f3604f" stroke-width="0.7"/>
<rect x="262.05" y="395.49" width="23.54" height="5.1" fill="#f8806f" stroke="#f3604f" stroke-width="0.7"/>
<rect x="262.05" y="385.21" width="16.87" height="5.1" fill="#f8806f" stroke="#f3604f" stroke-width="0.7"/>
<rect x="262.05" y="374.93" width="0.93" height="5.1" fill="#f8806f" stroke="#f3604f" stroke-width="0.7"/>
<text x="292.5" y="354.4" font-size="10" text-anchor="middle" font-weight="bold" fill="#111" stroke="#111" stroke-width="0.25">PS</text>
<line x1="277.97" y1="444.3" x2="277.97" y2="442.1" stroke="#555" stroke-width="0.8"/>
<line x1="277.97" y1="341.5" x2="277.97" y2="343.7" stroke="#555" stroke-width="0.8"/>
<line x1="294.23" y1="444.3" x2="294.23" y2="442.1" stroke="#555" stroke-width="0.8"/>
<line x1="294.23" y1="341.5" x2="294.23" y2="343.7" stroke="#555" stroke-width="0.8"/>
<text x="261.7" y="455.8" font-size="8.6" text-anchor="middle" font-weight="bold" fill="#111" stroke="#111" stroke-width="0.25">0</text>
<text x="277.97" y="455.8" font-size="8.6" text-anchor="middle" font-weight="bold" fill="#111" stroke="#111" stroke-width="0.25">10</text>
<text x="294.23" y="455.8" font-size="8.6" text-anchor="middle" font-weight="bold" fill="#111" stroke="#111" stroke-width="0.25">20</text>
<line x1="261.7" y1="341.5" x2="261.7" y2="444.3" stroke="#333" stroke-width="0.9"/>
<line x1="260.5" y1="444.3" x2="262.9" y2="444.3" stroke="#333" stroke-width="0.8"/>
<line x1="260.5" y1="423.74" x2="262.9" y2="423.74" stroke="#333" stroke-width="0.8"/>
<line x1="260.5" y1="403.18" x2="262.9" y2="403.18" stroke="#333" stroke-width="0.8"/>
<line x1="260.5" y1="382.62" x2="262.9" y2="382.62" stroke="#333" stroke-width="0.8"/>
<line x1="260.5" y1="362.06" x2="262.9" y2="362.06" stroke="#333" stroke-width="0.8"/>
<line x1="260.5" y1="341.5" x2="262.9" y2="341.5" stroke="#333" stroke-width="0.8"/>
<rect x="310.85" y="436.61" width="20.12" height="5.1" fill="#66cba6" stroke="#45bf92" stroke-width="0.7"/>
<rect x="310.85" y="426.33" width="29.56" height="5.1" fill="#66cba6" stroke="#45bf92" stroke-width="0.7"/>
<rect x="310.85" y="416.05" width="34.92" height="5.1" fill="#66cba6" stroke="#45bf92" stroke-width="0.7"/>
<rect x="310.85" y="405.77" width="38.01" height="5.1" fill="#66cba6" stroke="#45bf92" stroke-width="0.7"/>
<rect x="310.85" y="395.49" width="21.59" height="5.1" fill="#66cba6" stroke="#45bf92" stroke-width="0.7"/>
<rect x="310.85" y="385.21" width="11.17" height="5.1" fill="#66cba6" stroke="#45bf92" stroke-width="0.7"/>
<rect x="310.5" y="374.58" width="0.49" height="5.8" fill="#45bf92"/>
<text x="341.3" y="354.4" font-size="10" text-anchor="middle" font-weight="bold" fill="#111" stroke="#111" stroke-width="0.25">LS</text>
<line x1="326.77" y1="444.3" x2="326.77" y2="442.1" stroke="#555" stroke-width="0.8"/>
<line x1="326.77" y1="341.5" x2="326.77" y2="343.7" stroke="#555" stroke-width="0.8"/>
<line x1="343.03" y1="444.3" x2="343.03" y2="442.1" stroke="#555" stroke-width="0.8"/>
<line x1="343.03" y1="341.5" x2="343.03" y2="343.7" stroke="#555" stroke-width="0.8"/>
<text x="310.5" y="455.8" font-size="8.6" text-anchor="middle" font-weight="bold" fill="#111" stroke="#111" stroke-width="0.25">0</text>
<text x="326.77" y="455.8" font-size="8.6" text-anchor="middle" font-weight="bold" fill="#111" stroke="#111" stroke-width="0.25">10</text>
<text x="343.03" y="455.8" font-size="8.6" text-anchor="middle" font-weight="bold" fill="#111" stroke="#111" stroke-width="0.25">20</text>
<line x1="310.5" y1="341.5" x2="310.5" y2="444.3" stroke="#333" stroke-width="0.9"/>
<line x1="309.3" y1="444.3" x2="311.7" y2="444.3" stroke="#333" stroke-width="0.8"/>
<line x1="309.3" y1="423.74" x2="311.7" y2="423.74" stroke="#333" stroke-width="0.8"/>
<line x1="309.3" y1="403.18" x2="311.7" y2="403.18" stroke="#333" stroke-width="0.8"/>
<line x1="309.3" y1="382.62" x2="311.7" y2="382.62" stroke="#333" stroke-width="0.8"/>
<line x1="309.3" y1="362.06" x2="311.7" y2="362.06" stroke="#333" stroke-width="0.8"/>
<line x1="309.3" y1="341.5" x2="311.7" y2="341.5" stroke="#333" stroke-width="0.8"/>
<rect x="212.9" y="341.5" width="146.4" height="102.8" fill="none" stroke="#848484" stroke-width="1.1"/>
<line x1="212.9" y1="444.3" x2="214.5" y2="444.3" stroke="#777" stroke-width="0.8"/>
<line x1="359.3" y1="444.3" x2="357.7" y2="444.3" stroke="#777" stroke-width="0.8"/>
<line x1="212.9" y1="423.74" x2="214.5" y2="423.74" stroke="#777" stroke-width="0.8"/>
<line x1="359.3" y1="423.74" x2="357.7" y2="423.74" stroke="#777" stroke-width="0.8"/>
<line x1="212.9" y1="403.18" x2="214.5" y2="403.18" stroke="#777" stroke-width="0.8"/>
<line x1="359.3" y1="403.18" x2="357.7" y2="403.18" stroke="#777" stroke-width="0.8"/>
<line x1="212.9" y1="382.62" x2="214.5" y2="382.62" stroke="#777" stroke-width="0.8"/>
<line x1="359.3" y1="382.62" x2="357.7" y2="382.62" stroke="#777" stroke-width="0.8"/>
<line x1="212.9" y1="362.06" x2="214.5" y2="362.06" stroke="#777" stroke-width="0.8"/>
<line x1="359.3" y1="362.06" x2="357.7" y2="362.06" stroke="#777" stroke-width="0.8"/>
<line x1="212.9" y1="341.5" x2="214.5" y2="341.5" stroke="#777" stroke-width="0.8"/>
<line x1="359.3" y1="341.5" x2="357.7" y2="341.5" stroke="#777" stroke-width="0.8"/>
<text x="209.6" y="448.1" font-size="8.8" text-anchor="end" font-weight="bold" fill="#111" stroke="#111" stroke-width="0.25">0</text>
<text x="209.6" y="427.54" font-size="8.8" text-anchor="end" font-weight="bold" fill="#111" stroke="#111" stroke-width="0.25">0.2</text>
<text x="209.6" y="406.98" font-size="8.8" text-anchor="end" font-weight="bold" fill="#111" stroke="#111" stroke-width="0.25">0.4</text>
<text x="209.6" y="386.42" font-size="8.8" text-anchor="end" font-weight="bold" fill="#111" stroke="#111" stroke-width="0.25">0.6</text>
<text x="209.6" y="365.86" font-size="8.8" text-anchor="end" font-weight="bold" fill="#111" stroke="#111" stroke-width="0.25">0.8</text>
<text x="209.6" y="345.3" font-size="8.8" text-anchor="end" font-weight="bold" fill="#111" stroke="#111" stroke-width="0.25">1</text>
<text x="190.6" y="392.9" font-size="10.4" text-anchor="middle" font-weight="bold" fill="#111" stroke="#111" stroke-width="0.25" transform="rotate(-90 190.6 392.9)" dominant-baseline="central">CPR</text>
<text x="286.1" y="468" font-size="9.2" text-anchor="middle" font-weight="bold" fill="#111" stroke="#111" stroke-width="0.25">PDF [%]</text>
<text x="219.4" y="339.5" font-size="9.2" text-anchor="start" font-weight="bold" fill="#111" stroke="#111" stroke-width="0.25">(h)</text>
<rect x="394.75" y="436.61" width="28.58" height="5.1" fill="#add5f0" stroke="#98cbee" stroke-width="0.7"/>
<rect x="394.75" y="426.33" width="33.79" height="5.1" fill="#add5f0" stroke="#98cbee" stroke-width="0.7"/>
<rect x="394.75" y="416.05" width="34.6" height="5.1" fill="#add5f0" stroke="#98cbee" stroke-width="0.7"/>
<rect x="394.75" y="405.77" width="28.25" height="5.1" fill="#add5f0" stroke="#98cbee" stroke-width="0.7"/>
<rect x="394.75" y="395.49" width="17.52" height="5.1" fill="#add5f0" stroke="#98cbee" stroke-width="0.7"/>
<rect x="394.75" y="385.21" width="5.64" height="5.1" fill="#add5f0" stroke="#98cbee" stroke-width="0.7"/>
<rect x="394.75" y="374.93" width="0.28" height="5.1" fill="#add5f0" stroke="#98cbee" stroke-width="0.7"/>
<text x="425.2" y="354.4" font-size="10" text-anchor="middle" font-weight="bold" fill="#111" stroke="#111" stroke-width="0.25">TS</text>
<line x1="410.67" y1="444.3" x2="410.67" y2="442.1" stroke="#555" stroke-width="0.8"/>
<line x1="410.67" y1="341.5" x2="410.67" y2="343.7" stroke="#555" stroke-width="0.8"/>
<line x1="426.93" y1="444.3" x2="426.93" y2="442.1" stroke="#555" stroke-width="0.8"/>
<line x1="426.93" y1="341.5" x2="426.93" y2="343.7" stroke="#555" stroke-width="0.8"/>
<text x="394.4" y="455.8" font-size="8.6" text-anchor="middle" font-weight="bold" fill="#111" stroke="#111" stroke-width="0.25">0</text>
<text x="410.67" y="455.8" font-size="8.6" text-anchor="middle" font-weight="bold" fill="#111" stroke="#111" stroke-width="0.25">10</text>
<text x="426.93" y="455.8" font-size="8.6" text-anchor="middle" font-weight="bold" fill="#111" stroke="#111" stroke-width="0.25">20</text>
<rect x="443.55" y="436.61" width="21.91" height="5.1" fill="#f8806f" stroke="#f3604f" stroke-width="0.7"/>
<rect x="443.55" y="426.33" width="29.88" height="5.1" fill="#f8806f" stroke="#f3604f" stroke-width="0.7"/>
<rect x="443.55" y="416.05" width="37.85" height="5.1" fill="#f8806f" stroke="#f3604f" stroke-width="0.7"/>
<rect x="443.55" y="405.77" width="35.57" height="5.1" fill="#f8806f" stroke="#f3604f" stroke-width="0.7"/>
<rect x="443.55" y="395.49" width="16.54" height="5.1" fill="#f8806f" stroke="#f3604f" stroke-width="0.7"/>
<rect x="443.55" y="385.21" width="6.62" height="5.1" fill="#f8806f" stroke="#f3604f" stroke-width="0.7"/>
<rect x="443.55" y="374.93" width="1.41" height="5.1" fill="#f8806f" stroke="#f3604f" stroke-width="0.7"/>
<text x="474" y="354.4" font-size="10" text-anchor="middle" font-weight="bold" fill="#111" stroke="#111" stroke-width="0.25">PS</text>
<line x1="459.47" y1="444.3" x2="459.47" y2="442.1" stroke="#555" stroke-width="0.8"/>
<line x1="459.47" y1="341.5" x2="459.47" y2="343.7" stroke="#555" stroke-width="0.8"/>
<line x1="475.73" y1="444.3" x2="475.73" y2="442.1" stroke="#555" stroke-width="0.8"/>
<line x1="475.73" y1="341.5" x2="475.73" y2="343.7" stroke="#555" stroke-width="0.8"/>
<text x="443.2" y="455.8" font-size="8.6" text-anchor="middle" font-weight="bold" fill="#111" stroke="#111" stroke-width="0.25">0</text>
<text x="459.47" y="455.8" font-size="8.6" text-anchor="middle" font-weight="bold" fill="#111" stroke="#111" stroke-width="0.25">10</text>
<text x="475.73" y="455.8" font-size="8.6" text-anchor="middle" font-weight="bold" fill="#111" stroke="#111" stroke-width="0.25">20</text>
<line x1="443.2" y1="341.5" x2="443.2" y2="444.3" stroke="#333" stroke-width="0.9"/>
<line x1="442" y1="444.3" x2="444.4" y2="444.3" stroke="#333" stroke-width="0.8"/>
<line x1="442" y1="423.74" x2="444.4" y2="423.74" stroke="#333" stroke-width="0.8"/>
<line x1="442" y1="403.18" x2="444.4" y2="403.18" stroke="#333" stroke-width="0.8"/>
<line x1="442" y1="382.62" x2="444.4" y2="382.62" stroke="#333" stroke-width="0.8"/>
<line x1="442" y1="362.06" x2="444.4" y2="362.06" stroke="#333" stroke-width="0.8"/>
<line x1="442" y1="341.5" x2="444.4" y2="341.5" stroke="#333" stroke-width="0.8"/>
<rect x="492.35" y="436.61" width="24.35" height="5.1" fill="#66cba6" stroke="#45bf92" stroke-width="0.7"/>
<rect x="492.35" y="426.33" width="38.67" height="5.1" fill="#66cba6" stroke="#45bf92" stroke-width="0.7"/>
<rect x="492.35" y="416.05" width="37.36" height="5.1" fill="#66cba6" stroke="#45bf92" stroke-width="0.7"/>
<rect x="492.35" y="405.77" width="28.58" height="5.1" fill="#66cba6" stroke="#45bf92" stroke-width="0.7"/>
<rect x="492.35" y="395.49" width="14.1" height="5.1" fill="#66cba6" stroke="#45bf92" stroke-width="0.7"/>
<rect x="492.35" y="385.21" width="5.32" height="5.1" fill="#66cba6" stroke="#45bf92" stroke-width="0.7"/>
<rect x="492.35" y="374.93" width="0.6" height="5.1" fill="#66cba6" stroke="#45bf92" stroke-width="0.7"/>
<text x="522.8" y="354.4" font-size="10" text-anchor="middle" font-weight="bold" fill="#111" stroke="#111" stroke-width="0.25">LS</text>
<line x1="508.27" y1="444.3" x2="508.27" y2="442.1" stroke="#555" stroke-width="0.8"/>
<line x1="508.27" y1="341.5" x2="508.27" y2="343.7" stroke="#555" stroke-width="0.8"/>
<line x1="524.53" y1="444.3" x2="524.53" y2="442.1" stroke="#555" stroke-width="0.8"/>
<line x1="524.53" y1="341.5" x2="524.53" y2="343.7" stroke="#555" stroke-width="0.8"/>
<text x="492" y="455.8" font-size="8.6" text-anchor="middle" font-weight="bold" fill="#111" stroke="#111" stroke-width="0.25">0</text>
<text x="508.27" y="455.8" font-size="8.6" text-anchor="middle" font-weight="bold" fill="#111" stroke="#111" stroke-width="0.25">10</text>
<text x="524.53" y="455.8" font-size="8.6" text-anchor="middle" font-weight="bold" fill="#111" stroke="#111" stroke-width="0.25">20</text>
<line x1="492" y1="341.5" x2="492" y2="444.3" stroke="#333" stroke-width="0.9"/>
<line x1="490.8" y1="444.3" x2="493.2" y2="444.3" stroke="#333" stroke-width="0.8"/>
<line x1="490.8" y1="423.74" x2="493.2" y2="423.74" stroke="#333" stroke-width="0.8"/>
<line x1="490.8" y1="403.18" x2="493.2" y2="403.18" stroke="#333" stroke-width="0.8"/>
<line x1="490.8" y1="382.62" x2="493.2" y2="382.62" stroke="#333" stroke-width="0.8"/>
<line x1="490.8" y1="362.06" x2="493.2" y2="362.06" stroke="#333" stroke-width="0.8"/>
<line x1="490.8" y1="341.5" x2="493.2" y2="341.5" stroke="#333" stroke-width="0.8"/>
<rect x="394.4" y="341.5" width="146.4" height="102.8" fill="none" stroke="#848484" stroke-width="1.1"/>
<line x1="394.4" y1="444.3" x2="396" y2="444.3" stroke="#777" stroke-width="0.8"/>
<line x1="540.8" y1="444.3" x2="539.2" y2="444.3" stroke="#777" stroke-width="0.8"/>
<line x1="394.4" y1="423.74" x2="396" y2="423.74" stroke="#777" stroke-width="0.8"/>
<line x1="540.8" y1="423.74" x2="539.2" y2="423.74" stroke="#777" stroke-width="0.8"/>
<line x1="394.4" y1="403.18" x2="396" y2="403.18" stroke="#777" stroke-width="0.8"/>
<line x1="540.8" y1="403.18" x2="539.2" y2="403.18" stroke="#777" stroke-width="0.8"/>
<line x1="394.4" y1="382.62" x2="396" y2="382.62" stroke="#777" stroke-width="0.8"/>
<line x1="540.8" y1="382.62" x2="539.2" y2="382.62" stroke="#777" stroke-width="0.8"/>
<line x1="394.4" y1="362.06" x2="396" y2="362.06" stroke="#777" stroke-width="0.8"/>
<line x1="540.8" y1="362.06" x2="539.2" y2="362.06" stroke="#777" stroke-width="0.8"/>
<line x1="394.4" y1="341.5" x2="396" y2="341.5" stroke="#777" stroke-width="0.8"/>
<line x1="540.8" y1="341.5" x2="539.2" y2="341.5" stroke="#777" stroke-width="0.8"/>
<text x="391.1" y="448.1" font-size="8.8" text-anchor="end" font-weight="bold" fill="#111" stroke="#111" stroke-width="0.25">0</text>
<text x="391.1" y="427.54" font-size="8.8" text-anchor="end" font-weight="bold" fill="#111" stroke="#111" stroke-width="0.25">0.2</text>
<text x="391.1" y="406.98" font-size="8.8" text-anchor="end" font-weight="bold" fill="#111" stroke="#111" stroke-width="0.25">0.4</text>
<text x="391.1" y="386.42" font-size="8.8" text-anchor="end" font-weight="bold" fill="#111" stroke="#111" stroke-width="0.25">0.6</text>
<text x="391.1" y="365.86" font-size="8.8" text-anchor="end" font-weight="bold" fill="#111" stroke="#111" stroke-width="0.25">0.8</text>
<text x="391.1" y="345.3" font-size="8.8" text-anchor="end" font-weight="bold" fill="#111" stroke="#111" stroke-width="0.25">1</text>
<text x="372.1" y="392.9" font-size="10.4" text-anchor="middle" font-weight="bold" fill="#111" stroke="#111" stroke-width="0.25" transform="rotate(-90 372.1 392.9)" dominant-baseline="central">CPR</text>
<text x="467.6" y="468" font-size="9.2" text-anchor="middle" font-weight="bold" fill="#111" stroke="#111" stroke-width="0.25">PDF [%]</text>
<text x="400.9" y="339.5" font-size="9.2" text-anchor="start" font-weight="bold" fill="#111" stroke="#111" stroke-width="0.25">(i)</text>
<polyline points="193.75,613.44 203.86,601.69 213.96,577.85 224.06,568.79 234.17,572.14 244.27,589.94 254.38,592.62 264.48,572.14 274.59,512.04 284.69,518.42 294.79,506.67 304.9,521.78 315,515.74 325.11,500.63 335.21,500.63 345.31,497.27 355.42,550.99 365.52,554.01 375.63,560.06 385.73,554.01 395.84,560.06 405.94,542.26 416.04,586.58 426.15,610.76" fill="none" stroke="#0b6fc4" stroke-width="1.3"/>
<circle cx="193.75" cy="613.44" r="1.5" fill="#0b6fc4"/>
<circle cx="203.86" cy="601.69" r="1.5" fill="#0b6fc4"/>
<circle cx="213.96" cy="577.85" r="1.5" fill="#0b6fc4"/>
<circle cx="224.06" cy="568.79" r="1.5" fill="#0b6fc4"/>
<circle cx="234.17" cy="572.14" r="1.5" fill="#0b6fc4"/>
<circle cx="244.27" cy="589.94" r="1.5" fill="#0b6fc4"/>
<circle cx="254.38" cy="592.62" r="1.5" fill="#0b6fc4"/>
<circle cx="264.48" cy="572.14" r="1.5" fill="#0b6fc4"/>
<circle cx="274.59" cy="512.04" r="1.5" fill="#0b6fc4"/>
<circle cx="284.69" cy="518.42" r="1.5" fill="#0b6fc4"/>
<circle cx="294.79" cy="506.67" r="1.5" fill="#0b6fc4"/>
<circle cx="304.9" cy="521.78" r="1.5" fill="#0b6fc4"/>
<circle cx="315" cy="515.74" r="1.5" fill="#0b6fc4"/>
<circle cx="325.11" cy="500.63" r="1.5" fill="#0b6fc4"/>
<circle cx="335.21" cy="500.63" r="1.5" fill="#0b6fc4"/>
<circle cx="345.31" cy="497.27" r="1.5" fill="#0b6fc4"/>
<circle cx="355.42" cy="550.99" r="1.5" fill="#0b6fc4"/>
<circle cx="365.52" cy="554.01" r="1.5" fill="#0b6fc4"/>
<circle cx="375.63" cy="560.06" r="1.5" fill="#0b6fc4"/>
<circle cx="385.73" cy="554.01" r="1.5" fill="#0b6fc4"/>
<circle cx="395.84" cy="560.06" r="1.5" fill="#0b6fc4"/>
<circle cx="405.94" cy="542.26" r="1.5" fill="#0b6fc4"/>
<circle cx="416.04" cy="586.58" r="1.5" fill="#0b6fc4"/>
<circle cx="426.15" cy="610.76" r="1.5" fill="#0b6fc4"/>
<polyline points="193.75,517.42 203.86,526.15 213.96,535.88 224.06,553.01 234.17,571.81 244.27,601.35 254.38,612.43 264.48,610.42 274.59,594.3 284.69,576.84 294.79,577.18 304.9,550.32 315,563.75 325.11,562.74 335.21,545.62 345.31,521.45 355.42,522.12 365.52,540.58 375.63,560.39 385.73,545.62 395.84,521.45 405.94,534.88 416.04,513.72 426.15,522.12" fill="none" stroke="#d9501c" stroke-width="1.3"/>
<circle cx="193.75" cy="517.42" r="1.5" fill="#d9501c"/>
<circle cx="203.86" cy="526.15" r="1.5" fill="#d9501c"/>
<circle cx="213.96" cy="535.88" r="1.5" fill="#d9501c"/>
<circle cx="224.06" cy="553.01" r="1.5" fill="#d9501c"/>
<circle cx="234.17" cy="571.81" r="1.5" fill="#d9501c"/>
<circle cx="244.27" cy="601.35" r="1.5" fill="#d9501c"/>
<circle cx="254.38" cy="612.43" r="1.5" fill="#d9501c"/>
<circle cx="264.48" cy="610.42" r="1.5" fill="#d9501c"/>
<circle cx="274.59" cy="594.3" r="1.5" fill="#d9501c"/>
<circle cx="284.69" cy="576.84" r="1.5" fill="#d9501c"/>
<circle cx="294.79" cy="577.18" r="1.5" fill="#d9501c"/>
<circle cx="304.9" cy="550.32" r="1.5" fill="#d9501c"/>
<circle cx="315" cy="563.75" r="1.5" fill="#d9501c"/>
<circle cx="325.11" cy="562.74" r="1.5" fill="#d9501c"/>
<circle cx="335.21" cy="545.62" r="1.5" fill="#d9501c"/>
<circle cx="345.31" cy="521.45" r="1.5" fill="#d9501c"/>
<circle cx="355.42" cy="522.12" r="1.5" fill="#d9501c"/>
<circle cx="365.52" cy="540.58" r="1.5" fill="#d9501c"/>
<circle cx="375.63" cy="560.39" r="1.5" fill="#d9501c"/>
<circle cx="385.73" cy="545.62" r="1.5" fill="#d9501c"/>
<circle cx="395.84" cy="521.45" r="1.5" fill="#d9501c"/>
<circle cx="405.94" cy="534.88" r="1.5" fill="#d9501c"/>
<circle cx="416.04" cy="513.72" r="1.5" fill="#d9501c"/>
<circle cx="426.15" cy="522.12" r="1.5" fill="#d9501c"/>
<polyline points="193.75,493.91 203.86,522.79 213.96,538.57 224.06,557.71 234.17,579.53 244.27,582.22 254.38,579.2 264.48,587.59 274.59,583.56 284.69,582.22 294.79,564.09 304.9,556.36 315,550.32 325.11,541.93 335.21,524.8 345.31,555.02 355.42,552.67 365.52,556.36 375.63,545.96 385.73,560.39 395.84,560.39 405.94,549.65 416.04,537.23 426.15,517.42" fill="none" stroke="#f2ad1c" stroke-width="1.3"/>
<circle cx="193.75" cy="493.91" r="1.5" fill="#f2ad1c"/>
<circle cx="203.86" cy="522.79" r="1.5" fill="#f2ad1c"/>
<circle cx="213.96" cy="538.57" r="1.5" fill="#f2ad1c"/>
<circle cx="224.06" cy="557.71" r="1.5" fill="#f2ad1c"/>
<circle cx="234.17" cy="579.53" r="1.5" fill="#f2ad1c"/>
<circle cx="244.27" cy="582.22" r="1.5" fill="#f2ad1c"/>
<circle cx="254.38" cy="579.2" r="1.5" fill="#f2ad1c"/>
<circle cx="264.48" cy="587.59" r="1.5" fill="#f2ad1c"/>
<circle cx="274.59" cy="583.56" r="1.5" fill="#f2ad1c"/>
<circle cx="284.69" cy="582.22" r="1.5" fill="#f2ad1c"/>
<circle cx="294.79" cy="564.09" r="1.5" fill="#f2ad1c"/>
<circle cx="304.9" cy="556.36" r="1.5" fill="#f2ad1c"/>
<circle cx="315" cy="550.32" r="1.5" fill="#f2ad1c"/>
<circle cx="325.11" cy="541.93" r="1.5" fill="#f2ad1c"/>
<circle cx="335.21" cy="524.8" r="1.5" fill="#f2ad1c"/>
<circle cx="345.31" cy="555.02" r="1.5" fill="#f2ad1c"/>
<circle cx="355.42" cy="552.67" r="1.5" fill="#f2ad1c"/>
<circle cx="365.52" cy="556.36" r="1.5" fill="#f2ad1c"/>
<circle cx="375.63" cy="545.96" r="1.5" fill="#f2ad1c"/>
<circle cx="385.73" cy="560.39" r="1.5" fill="#f2ad1c"/>
<circle cx="395.84" cy="560.39" r="1.5" fill="#f2ad1c"/>
<circle cx="405.94" cy="549.65" r="1.5" fill="#f2ad1c"/>
<circle cx="416.04" cy="537.23" r="1.5" fill="#f2ad1c"/>
<circle cx="426.15" cy="517.42" r="1.5" fill="#f2ad1c"/>
<rect x="188.7" y="491.9" width="242.5" height="134.3" fill="none" stroke="#848484" stroke-width="1.1"/>
<line x1="193.75" y1="626.2" x2="193.75" y2="622" stroke="#777" stroke-width="0.9"/>
<line x1="193.75" y1="491.9" x2="193.75" y2="496.1" stroke="#777" stroke-width="0.9"/>
<line x1="203.86" y1="626.2" x2="203.86" y2="622" stroke="#777" stroke-width="0.9"/>
<line x1="203.86" y1="491.9" x2="203.86" y2="496.1" stroke="#777" stroke-width="0.9"/>
<line x1="213.96" y1="626.2" x2="213.96" y2="622" stroke="#777" stroke-width="0.9"/>
<line x1="213.96" y1="491.9" x2="213.96" y2="496.1" stroke="#777" stroke-width="0.9"/>
<line x1="224.06" y1="626.2" x2="224.06" y2="622" stroke="#777" stroke-width="0.9"/>
<line x1="224.06" y1="491.9" x2="224.06" y2="496.1" stroke="#777" stroke-width="0.9"/>
<line x1="234.17" y1="626.2" x2="234.17" y2="622" stroke="#777" stroke-width="0.9"/>
<line x1="234.17" y1="491.9" x2="234.17" y2="496.1" stroke="#777" stroke-width="0.9"/>
<line x1="244.27" y1="626.2" x2="244.27" y2="622" stroke="#777" stroke-width="0.9"/>
<line x1="244.27" y1="491.9" x2="244.27" y2="496.1" stroke="#777" stroke-width="0.9"/>
<line x1="254.38" y1="626.2" x2="254.38" y2="622" stroke="#777" stroke-width="0.9"/>
<line x1="254.38" y1="491.9" x2="254.38" y2="496.1" stroke="#777" stroke-width="0.9"/>
<line x1="264.48" y1="626.2" x2="264.48" y2="622" stroke="#777" stroke-width="0.9"/>
<line x1="264.48" y1="491.9" x2="264.48" y2="496.1" stroke="#777" stroke-width="0.9"/>
<line x1="274.59" y1="626.2" x2="274.59" y2="622" stroke="#777" stroke-width="0.9"/>
<line x1="274.59" y1="491.9" x2="274.59" y2="496.1" stroke="#777" stroke-width="0.9"/>
<line x1="284.69" y1="626.2" x2="284.69" y2="622" stroke="#777" stroke-width="0.9"/>
<line x1="284.69" y1="491.9" x2="284.69" y2="496.1" stroke="#777" stroke-width="0.9"/>
<line x1="294.79" y1="626.2" x2="294.79" y2="622" stroke="#777" stroke-width="0.9"/>
<line x1="294.79" y1="491.9" x2="294.79" y2="496.1" stroke="#777" stroke-width="0.9"/>
<line x1="304.9" y1="626.2" x2="304.9" y2="622" stroke="#777" stroke-width="0.9"/>
<line x1="304.9" y1="491.9" x2="304.9" y2="496.1" stroke="#777" stroke-width="0.9"/>
<line x1="315" y1="626.2" x2="315" y2="622" stroke="#777" stroke-width="0.9"/>
<line x1="315" y1="491.9" x2="315" y2="496.1" stroke="#777" stroke-width="0.9"/>
<line x1="325.11" y1="626.2" x2="325.11" y2="622" stroke="#777" stroke-width="0.9"/>
<line x1="325.11" y1="491.9" x2="325.11" y2="496.1" stroke="#777" stroke-width="0.9"/>
<line x1="335.21" y1="626.2" x2="335.21" y2="622" stroke="#777" stroke-width="0.9"/>
<line x1="335.21" y1="491.9" x2="335.21" y2="496.1" stroke="#777" stroke-width="0.9"/>
<line x1="345.31" y1="626.2" x2="345.31" y2="622" stroke="#777" stroke-width="0.9"/>
<line x1="345.31" y1="491.9" x2="345.31" y2="496.1" stroke="#777" stroke-width="0.9"/>
<line x1="355.42" y1="626.2" x2="355.42" y2="622" stroke="#777" stroke-width="0.9"/>
<line x1="355.42" y1="491.9" x2="355.42" y2="496.1" stroke="#777" stroke-width="0.9"/>
<line x1="365.52" y1="626.2" x2="365.52" y2="622" stroke="#777" stroke-width="0.9"/>
<line x1="365.52" y1="491.9" x2="365.52" y2="496.1" stroke="#777" stroke-width="0.9"/>
<line x1="375.63" y1="626.2" x2="375.63" y2="622" stroke="#777" stroke-width="0.9"/>
<line x1="375.63" y1="491.9" x2="375.63" y2="496.1" stroke="#777" stroke-width="0.9"/>
<line x1="385.73" y1="626.2" x2="385.73" y2="622" stroke="#777" stroke-width="0.9"/>
<line x1="385.73" y1="491.9" x2="385.73" y2="496.1" stroke="#777" stroke-width="0.9"/>
<line x1="395.84" y1="626.2" x2="395.84" y2="622" stroke="#777" stroke-width="0.9"/>
<line x1="395.84" y1="491.9" x2="395.84" y2="496.1" stroke="#777" stroke-width="0.9"/>
<line x1="405.94" y1="626.2" x2="405.94" y2="622" stroke="#777" stroke-width="0.9"/>
<line x1="405.94" y1="491.9" x2="405.94" y2="496.1" stroke="#777" stroke-width="0.9"/>
<line x1="416.04" y1="626.2" x2="416.04" y2="622" stroke="#777" stroke-width="0.9"/>
<line x1="416.04" y1="491.9" x2="416.04" y2="496.1" stroke="#777" stroke-width="0.9"/>
<line x1="426.15" y1="626.2" x2="426.15" y2="622" stroke="#777" stroke-width="0.9"/>
<line x1="426.15" y1="491.9" x2="426.15" y2="496.1" stroke="#777" stroke-width="0.9"/>
<line x1="188.7" y1="626.2" x2="193.3" y2="626.2" stroke="#888" stroke-width="0.8"/>
<line x1="431.2" y1="626.2" x2="426.6" y2="626.2" stroke="#888" stroke-width="0.8"/>
<line x1="188.7" y1="622.84" x2="191.2" y2="622.84" stroke="#888" stroke-width="0.8"/>
<line x1="431.2" y1="622.84" x2="428.7" y2="622.84" stroke="#888" stroke-width="0.8"/>
<line x1="188.7" y1="619.49" x2="191.2" y2="619.49" stroke="#888" stroke-width="0.8"/>
<line x1="431.2" y1="619.49" x2="428.7" y2="619.49" stroke="#888" stroke-width="0.8"/>
<line x1="188.7" y1="616.13" x2="191.2" y2="616.13" stroke="#888" stroke-width="0.8"/>
<line x1="431.2" y1="616.13" x2="428.7" y2="616.13" stroke="#888" stroke-width="0.8"/>
<line x1="188.7" y1="612.77" x2="191.2" y2="612.77" stroke="#888" stroke-width="0.8"/>
<line x1="431.2" y1="612.77" x2="428.7" y2="612.77" stroke="#888" stroke-width="0.8"/>
<line x1="188.7" y1="609.41" x2="193.3" y2="609.41" stroke="#888" stroke-width="0.8"/>
<line x1="431.2" y1="609.41" x2="426.6" y2="609.41" stroke="#888" stroke-width="0.8"/>
<line x1="188.7" y1="606.06" x2="191.2" y2="606.06" stroke="#888" stroke-width="0.8"/>
<line x1="431.2" y1="606.06" x2="428.7" y2="606.06" stroke="#888" stroke-width="0.8"/>
<line x1="188.7" y1="602.7" x2="191.2" y2="602.7" stroke="#888" stroke-width="0.8"/>
<line x1="431.2" y1="602.7" x2="428.7" y2="602.7" stroke="#888" stroke-width="0.8"/>
<line x1="188.7" y1="599.34" x2="191.2" y2="599.34" stroke="#888" stroke-width="0.8"/>
<line x1="431.2" y1="599.34" x2="428.7" y2="599.34" stroke="#888" stroke-width="0.8"/>
<line x1="188.7" y1="595.98" x2="191.2" y2="595.98" stroke="#888" stroke-width="0.8"/>
<line x1="431.2" y1="595.98" x2="428.7" y2="595.98" stroke="#888" stroke-width="0.8"/>
<line x1="188.7" y1="592.62" x2="193.3" y2="592.62" stroke="#888" stroke-width="0.8"/>
<line x1="431.2" y1="592.62" x2="426.6" y2="592.62" stroke="#888" stroke-width="0.8"/>
<line x1="188.7" y1="589.27" x2="191.2" y2="589.27" stroke="#888" stroke-width="0.8"/>
<line x1="431.2" y1="589.27" x2="428.7" y2="589.27" stroke="#888" stroke-width="0.8"/>
<line x1="188.7" y1="585.91" x2="191.2" y2="585.91" stroke="#888" stroke-width="0.8"/>
<line x1="431.2" y1="585.91" x2="428.7" y2="585.91" stroke="#888" stroke-width="0.8"/>
<line x1="188.7" y1="582.55" x2="191.2" y2="582.55" stroke="#888" stroke-width="0.8"/>
<line x1="431.2" y1="582.55" x2="428.7" y2="582.55" stroke="#888" stroke-width="0.8"/>
<line x1="188.7" y1="579.2" x2="191.2" y2="579.2" stroke="#888" stroke-width="0.8"/>
<line x1="431.2" y1="579.2" x2="428.7" y2="579.2" stroke="#888" stroke-width="0.8"/>
<line x1="188.7" y1="575.84" x2="193.3" y2="575.84" stroke="#888" stroke-width="0.8"/>
<line x1="431.2" y1="575.84" x2="426.6" y2="575.84" stroke="#888" stroke-width="0.8"/>
<line x1="188.7" y1="572.48" x2="191.2" y2="572.48" stroke="#888" stroke-width="0.8"/>
<line x1="431.2" y1="572.48" x2="428.7" y2="572.48" stroke="#888" stroke-width="0.8"/>
<line x1="188.7" y1="569.12" x2="191.2" y2="569.12" stroke="#888" stroke-width="0.8"/>
<line x1="431.2" y1="569.12" x2="428.7" y2="569.12" stroke="#888" stroke-width="0.8"/>
<line x1="188.7" y1="565.76" x2="191.2" y2="565.76" stroke="#888" stroke-width="0.8"/>
<line x1="431.2" y1="565.76" x2="428.7" y2="565.76" stroke="#888" stroke-width="0.8"/>
<line x1="188.7" y1="562.41" x2="191.2" y2="562.41" stroke="#888" stroke-width="0.8"/>
<line x1="431.2" y1="562.41" x2="428.7" y2="562.41" stroke="#888" stroke-width="0.8"/>
<line x1="188.7" y1="559.05" x2="193.3" y2="559.05" stroke="#888" stroke-width="0.8"/>
<line x1="431.2" y1="559.05" x2="426.6" y2="559.05" stroke="#888" stroke-width="0.8"/>
<line x1="188.7" y1="555.69" x2="191.2" y2="555.69" stroke="#888" stroke-width="0.8"/>
<line x1="431.2" y1="555.69" x2="428.7" y2="555.69" stroke="#888" stroke-width="0.8"/>
<line x1="188.7" y1="552.34" x2="191.2" y2="552.34" stroke="#888" stroke-width="0.8"/>
<line x1="431.2" y1="552.34" x2="428.7" y2="552.34" stroke="#888" stroke-width="0.8"/>
<line x1="188.7" y1="548.98" x2="191.2" y2="548.98" stroke="#888" stroke-width="0.8"/>
<line x1="431.2" y1="548.98" x2="428.7" y2="548.98" stroke="#888" stroke-width="0.8"/>
<line x1="188.7" y1="545.62" x2="191.2" y2="545.62" stroke="#888" stroke-width="0.8"/>
<line x1="431.2" y1="545.62" x2="428.7" y2="545.62" stroke="#888" stroke-width="0.8"/>
<line x1="188.7" y1="542.26" x2="193.3" y2="542.26" stroke="#888" stroke-width="0.8"/>
<line x1="431.2" y1="542.26" x2="426.6" y2="542.26" stroke="#888" stroke-width="0.8"/>
<line x1="188.7" y1="538.9" x2="191.2" y2="538.9" stroke="#888" stroke-width="0.8"/>
<line x1="431.2" y1="538.9" x2="428.7" y2="538.9" stroke="#888" stroke-width="0.8"/>
<line x1="188.7" y1="535.55" x2="191.2" y2="535.55" stroke="#888" stroke-width="0.8"/>
<line x1="431.2" y1="535.55" x2="428.7" y2="535.55" stroke="#888" stroke-width="0.8"/>
<line x1="188.7" y1="532.19" x2="191.2" y2="532.19" stroke="#888" stroke-width="0.8"/>
<line x1="431.2" y1="532.19" x2="428.7" y2="532.19" stroke="#888" stroke-width="0.8"/>
<line x1="188.7" y1="528.83" x2="191.2" y2="528.83" stroke="#888" stroke-width="0.8"/>
<line x1="431.2" y1="528.83" x2="428.7" y2="528.83" stroke="#888" stroke-width="0.8"/>
<line x1="188.7" y1="525.48" x2="193.3" y2="525.48" stroke="#888" stroke-width="0.8"/>
<line x1="431.2" y1="525.48" x2="426.6" y2="525.48" stroke="#888" stroke-width="0.8"/>
<line x1="188.7" y1="522.12" x2="191.2" y2="522.12" stroke="#888" stroke-width="0.8"/>
<line x1="431.2" y1="522.12" x2="428.7" y2="522.12" stroke="#888" stroke-width="0.8"/>
<line x1="188.7" y1="518.76" x2="191.2" y2="518.76" stroke="#888" stroke-width="0.8"/>
<line x1="431.2" y1="518.76" x2="428.7" y2="518.76" stroke="#888" stroke-width="0.8"/>
<line x1="188.7" y1="515.4" x2="191.2" y2="515.4" stroke="#888" stroke-width="0.8"/>
<line x1="431.2" y1="515.4" x2="428.7" y2="515.4" stroke="#888" stroke-width="0.8"/>
<line x1="188.7" y1="512.04" x2="191.2" y2="512.04" stroke="#888" stroke-width="0.8"/>
<line x1="431.2" y1="512.04" x2="428.7" y2="512.04" stroke="#888" stroke-width="0.8"/>
<line x1="188.7" y1="508.69" x2="193.3" y2="508.69" stroke="#888" stroke-width="0.8"/>
<line x1="431.2" y1="508.69" x2="426.6" y2="508.69" stroke="#888" stroke-width="0.8"/>
<line x1="188.7" y1="505.33" x2="191.2" y2="505.33" stroke="#888" stroke-width="0.8"/>
<line x1="431.2" y1="505.33" x2="428.7" y2="505.33" stroke="#888" stroke-width="0.8"/>
<line x1="188.7" y1="501.97" x2="191.2" y2="501.97" stroke="#888" stroke-width="0.8"/>
<line x1="431.2" y1="501.97" x2="428.7" y2="501.97" stroke="#888" stroke-width="0.8"/>
<line x1="188.7" y1="498.62" x2="191.2" y2="498.62" stroke="#888" stroke-width="0.8"/>
<line x1="431.2" y1="498.62" x2="428.7" y2="498.62" stroke="#888" stroke-width="0.8"/>
<line x1="188.7" y1="495.26" x2="191.2" y2="495.26" stroke="#888" stroke-width="0.8"/>
<line x1="431.2" y1="495.26" x2="428.7" y2="495.26" stroke="#888" stroke-width="0.8"/>
<line x1="188.7" y1="491.9" x2="193.3" y2="491.9" stroke="#888" stroke-width="0.8"/>
<line x1="431.2" y1="491.9" x2="426.6" y2="491.9" stroke="#888" stroke-width="0.8"/>
<text x="185.9" y="628.7" font-size="7" text-anchor="end" font-weight="bold" fill="#111" stroke="#111" stroke-width="0.25">2</text>
<text x="185.9" y="611.91" font-size="7" text-anchor="end" font-weight="bold" fill="#111" stroke="#111" stroke-width="0.25">2.5</text>
<text x="185.9" y="595.12" font-size="7" text-anchor="end" font-weight="bold" fill="#111" stroke="#111" stroke-width="0.25">3</text>
<text x="185.9" y="578.34" font-size="7" text-anchor="end" font-weight="bold" fill="#111" stroke="#111" stroke-width="0.25">3.5</text>
<text x="185.9" y="561.55" font-size="7" text-anchor="end" font-weight="bold" fill="#111" stroke="#111" stroke-width="0.25">4</text>
<text x="185.9" y="544.76" font-size="7" text-anchor="end" font-weight="bold" fill="#111" stroke="#111" stroke-width="0.25">4.5</text>
<text x="185.9" y="527.98" font-size="7" text-anchor="end" font-weight="bold" fill="#111" stroke="#111" stroke-width="0.25">5</text>
<text x="185.9" y="511.19" font-size="7" text-anchor="end" font-weight="bold" fill="#111" stroke="#111" stroke-width="0.25">5.5</text>
<text x="185.9" y="494.4" font-size="7" text-anchor="end" font-weight="bold" fill="#111" stroke="#111" stroke-width="0.25">6</text>
<text x="199.05" y="632.8" font-size="7.2" text-anchor="end" font-weight="bold" fill="#111" stroke="#111" stroke-width="0.25" transform="rotate(-45 199.05 632.8)">0</text>
<text x="219.26" y="632.8" font-size="7.2" text-anchor="end" font-weight="bold" fill="#111" stroke="#111" stroke-width="0.25" transform="rotate(-45 219.26 632.8)">2</text>
<text x="239.47" y="632.8" font-size="7.2" text-anchor="end" font-weight="bold" fill="#111" stroke="#111" stroke-width="0.25" transform="rotate(-45 239.47 632.8)">4</text>
<text x="259.68" y="632.8" font-size="7.2" text-anchor="end" font-weight="bold" fill="#111" stroke="#111" stroke-width="0.25" transform="rotate(-45 259.68 632.8)">6</text>
<text x="279.89" y="632.8" font-size="7.2" text-anchor="end" font-weight="bold" fill="#111" stroke="#111" stroke-width="0.25" transform="rotate(-45 279.89 632.8)">8</text>
<text x="300.09" y="632.8" font-size="7.2" text-anchor="end" font-weight="bold" fill="#111" stroke="#111" stroke-width="0.25" transform="rotate(-45 300.09 632.8)">10</text>
<text x="320.3" y="632.8" font-size="7.2" text-anchor="end" font-weight="bold" fill="#111" stroke="#111" stroke-width="0.25" transform="rotate(-45 320.3 632.8)">12</text>
<text x="340.51" y="632.8" font-size="7.2" text-anchor="end" font-weight="bold" fill="#111" stroke="#111" stroke-width="0.25" transform="rotate(-45 340.51 632.8)">14</text>
<text x="360.72" y="632.8" font-size="7.2" text-anchor="end" font-weight="bold" fill="#111" stroke="#111" stroke-width="0.25" transform="rotate(-45 360.72 632.8)">16</text>
<text x="380.93" y="632.8" font-size="7.2" text-anchor="end" font-weight="bold" fill="#111" stroke="#111" stroke-width="0.25" transform="rotate(-45 380.93 632.8)">18</text>
<text x="401.14" y="632.8" font-size="7.2" text-anchor="end" font-weight="bold" fill="#111" stroke="#111" stroke-width="0.25" transform="rotate(-45 401.14 632.8)">20</text>
<text x="421.34" y="632.8" font-size="7.2" text-anchor="end" font-weight="bold" fill="#111" stroke="#111" stroke-width="0.25" transform="rotate(-45 421.34 632.8)">22</text>
<text x="171.2" y="559.05" font-size="7.8" text-anchor="middle" font-weight="bold" fill="#111" stroke="#111" stroke-width="0.25" transform="rotate(-90 171.2 559.05)" dominant-baseline="central">Probability of MCS occurrence [%]</text>
<text x="309.95" y="646.6" font-size="7.3" text-anchor="middle" font-weight="bold" fill="#111" stroke="#111" stroke-width="0.25">Hour (BJT)</text>
<text x="196.7" y="489.9" font-size="9.4" text-anchor="start" font-weight="bold" fill="#111" stroke="#111" stroke-width="0.25">(j)</text>
<line x1="361.8" y1="504.3" x2="377" y2="504.3" stroke="#0b6fc4" stroke-width="1.3"/>
<circle cx="369.1" cy="504.3" r="1.5" fill="#0b6fc4"/>
<text x="378" y="506.7" font-size="6.5" text-anchor="start" font-weight="bold" fill="#111" stroke="#111" stroke-width="0.25">March</text>
<line x1="361.8" y1="511.7" x2="377" y2="511.7" stroke="#d9501c" stroke-width="1.3"/>
<circle cx="369.1" cy="511.7" r="1.5" fill="#d9501c"/>
<text x="378" y="514.1" font-size="6.5" text-anchor="start" font-weight="bold" fill="#111" stroke="#111" stroke-width="0.25">April</text>
<line x1="361.8" y1="519.1" x2="377" y2="519.1" stroke="#f2ad1c" stroke-width="1.3"/>
<circle cx="369.1" cy="519.1" r="1.5" fill="#f2ad1c"/>
<text x="378" y="521.5" font-size="6.5" text-anchor="start" font-weight="bold" fill="#111" stroke="#111" stroke-width="0.25">May</text>
</svg>
</body></html>
